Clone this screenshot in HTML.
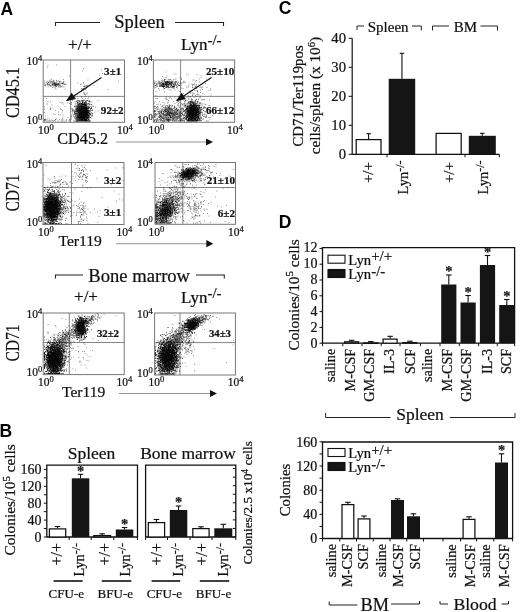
<!DOCTYPE html>
<html><head><meta charset="utf-8"><title>Figure</title>
<style>
html,body{margin:0;padding:0;background:#fff;}
svg{display:block;will-change:transform;opacity:0.999;}
text.s{font-family:"Liberation Serif", serif;stroke:#111;stroke-width:0.22px;}
text.a{font-family:"Liberation Sans", sans-serif;}
</style></head><body>
<svg width="520" height="612" viewBox="0 0 520 612">
<rect width="520" height="612" fill="#fff"/>
<text class="a" x="0.6" y="14.6" font-size="17.5" text-anchor="start" font-weight="bold" fill="#000">A</text>
<polyline points="55.5,26 55.5,22.5 100,22.5" fill="none" stroke="#222" stroke-width="1.1"/>
<text class="s" x="139.5" y="27.7" font-size="18.5" text-anchor="middle" fill="#111">Spleen</text>
<polyline points="175,22.5 223.5,22.5 223.5,26" fill="none" stroke="#222" stroke-width="1.1"/>
<text class="s" x="80" y="49.5" font-size="17" text-anchor="middle" fill="#111">+/+</text>
<text class="s" x="181" y="50" font-size="17" text-anchor="start" fill="#111">Lyn<tspan font-size="15" dy="-5">-/-</tspan></text>
<rect x="43.2" y="60" width="81.3" height="62.3" fill="#fff" stroke="#777" stroke-width="1"/>
<line x1="70.6" y1="60" x2="70.6" y2="122.3" stroke="#666" stroke-width="0.8"/>
<line x1="43.2" y1="96.4" x2="124.5" y2="96.4" stroke="#666" stroke-width="0.8"/>
<path transform="scale(.5)" d="M95 130h2M112 130h2M94 134h2M166 137h2M202 140h2M164 142h2M204 147h2M198 150h2M138 152h2M102 158h2M126 159h2M99 160h2M103 160h2M175 160h2M106 161h2M112 161h2M88 162h2M95 162h2M99 162h3M107 162h3M113 162h2M116 162h2M236 162h2M93 163h2M101 163h2M103 163h2M106 163h2M120 163h2M126 163h3M97 164h3M104 164h3M112 164h3M93 165h2M101 165h2M105 165h2M108 165h3M119 165h2M125 165h3M166 165h2M88 166h2M91 166h2M97 166h2M108 166h2M112 166h2M117 166h2M122 166h2M125 166h2M155 166h2M166 166h2M94 167h2M101 167h2M106 167h2M109 167h5M114 167h2M116 167h3M122 167h3M125 167h2M127 167h2M97 168h2M105 168h3M109 168h2M112 168h3M115 168h2M117 168h5M129 168h2M162 168h2M90 169h2M93 169h2M96 169h2M98 169h2M105 169h3M108 169h2M110 169h3M117 169h2M125 169h2M131 169h2M160 169h2M88 170h2M94 170h2M101 170h2M114 170h2M118 170h2M169 170h2M89 171h2M97 171h2M100 171h2M105 171h2M107 171h3M110 171h2M114 171h3M118 171h2M120 171h2M174 171h2M187 171h2M90 172h2M98 172h2M103 172h2M109 172h2M112 172h2M116 172h2M123 172h3M168 172h2M171 172h2M100 173h2M110 173h2M112 173h2M119 173h2M121 173h2M166 173h2M168 173h3M95 174h2M106 174h2M109 174h2M116 174h2M123 174h2M127 174h2M168 174h2M104 175h2M119 175h2M172 175h2M110 176h2M163 177h2M166 177h2M172 177h2M111 178h2M129 178h2M162 178h3M166 178h3M164 179h2M169 179h3M215 179h2M166 181h2M162 183h2M167 185h2M167 186h2M174 186h2M167 187h2M168 188h2M172 188h2M153 189h2M169 189h2M170 190h2M169 193h2M149 194h2M176 194h2M92 197h2M155 197h2M164 197h2M170 197h2M175 197h2M138 198h2M137 199h2M167 199h2M153 200h2M144 201h2M154 201h2M156 201h2M162 201h2M195 201h2M152 202h2M157 202h2M159 202h2M161 202h2M95 203h2M149 203h2M165 203h2M100 204h2M154 204h2M158 204h2M161 204h2M169 204h2M177 204h2M182 204h2M119 205h2M124 205h2M142 205h2M170 205h2M122 206h2M134 206h2M142 206h2M150 206h2M154 206h3M159 206h2M169 206h4M138 207h2M164 207h2M93 208h3M126 208h2M151 208h2M154 208h2M163 208h2M166 208h2M173 208h2M179 208h2M142 209h2M157 209h2M177 209h2M179 209h2M103 210h2M149 210h2M163 210h2M168 210h2M171 210h2M173 210h2M165 211h2M151 212h2M156 212h2M183 212h2M186 212h2M129 213h2M148 213h2M156 213h2M160 213h2M167 213h2M175 213h4M181 213h2M185 213h2M88 214h2M100 214h2M149 214h2M159 214h2M165 214h2M176 214h2M190 214h2M157 215h3M177 215h2M105 216h2M141 216h2M160 216h2M175 216h2M182 216h2M100 217h2M155 217h2M180 217h2M182 217h2M101 218h2M120 218h2M144 218h2M150 218h2M152 218h2M155 218h2M180 218h2M88 219h2M100 219h2M122 219h2M147 219h2M173 219h2M152 220h2M183 220h2M110 221h2M124 221h2M144 221h2M146 221h2M169 221h2M177 221h2M179 221h2M182 221h4M143 222h2M195 222h2M145 223h2M148 223h2M158 223h2M116 224h2M124 224h2M147 224h2M149 224h2M178 224h2M189 224h2M88 225h2M182 225h2M144 226h2M151 227h2M163 227h2M184 227h2M106 228h2M149 228h2M177 228h2M179 228h2M109 229h2M116 229h2M147 229h2M154 229h2M178 229h2M119 230h2M125 230h2M143 230h2M146 230h2M156 230h2M159 230h2M183 230h2M154 231h2M90 232h2M142 232h2M178 232h2M182 232h2M150 233h2M125 234h2M142 234h2M135 235h2M172 235h2M176 235h2M95 236h2M176 236h2M124 237h2M167 237h2M169 237h2M90 238h2M112 238h2M139 238h2M142 238h2M151 238h2M90 239h2M93 239h2M118 239h2M123 239h2M132 239h2M138 239h2M166 239h3M89 240h2M98 240h2M102 240h2M125 240h2M88 241h2M90 241h2M104 241h2M108 241h2M137 241h2M153 241h2M88 242h2M92 242h3M95 242h2M97 242h2M99 242h3M105 242h3M110 242h2M115 242h3M121 242h3M124 242h2M127 242h2M130 242h2M132 242h2M138 242h2M146 242h3M155 242h2M177 242h2" stroke="#000" stroke-opacity="0.4" stroke-width="2" fill="none"/>
<path transform="scale(.5)" d="M118 163h2M101 164h2M96 165h2M105 166h2M109 166h2M108 167h2M124 167h2M94 168h2M104 168h2M108 168h2M110 168h2M116 168h2M104 169h2M109 169h2M112 169h3M115 169h2M129 169h2M103 170h2M111 170h2M109 171h2M111 171h2M172 172h2M162 194h2M164 201h2M166 201h3M172 201h4M163 202h2M169 202h2M175 202h3M178 202h2M153 203h2M170 203h2M178 203h3M156 204h2M165 204h2M172 204h2M154 205h2M164 205h2M168 205h2M171 205h2M153 206h2M160 206h2M165 206h4M157 207h3M168 207h3M172 207h3M176 207h2M155 208h2M158 208h3M161 208h2M165 208h2M167 208h3M178 208h2M156 209h2M158 209h2M166 209h2M169 209h2M172 209h3M182 209h2M154 210h2M156 210h2M160 210h4M164 210h2M166 210h2M177 210h2M161 211h3M164 211h2M168 211h2M172 211h2M152 212h2M155 212h2M158 212h2M161 212h2M164 212h2M166 212h2M169 212h2M171 212h2M173 212h2M149 213h2M154 213h2M157 213h3M161 213h2M166 213h2M169 213h5M153 214h3M157 214h3M160 214h3M163 214h2M172 214h4M177 214h2M155 215h3M159 215h2M161 215h2M163 215h3M166 215h2M169 215h2M171 215h2M173 215h2M175 215h3M178 215h2M182 215h2M154 216h2M156 216h3M161 216h3M166 216h2M171 216h2M153 217h2M159 217h2M161 217h2M164 217h3M167 217h2M170 217h2M176 217h3M181 217h2M143 218h2M151 218h2M156 218h2M163 218h2M172 218h2M151 219h2M153 219h3M156 219h3M144 220h2M153 220h2M156 220h4M160 220h2M166 220h2M179 220h3M184 220h2M151 221h2M153 221h2M156 221h2M158 221h3M170 221h2M172 221h2M174 221h2M176 221h2M148 222h3M151 222h2M155 222h2M173 222h2M175 222h2M178 222h2M150 223h4M161 223h3M175 223h2M179 223h2M152 224h4M156 224h3M171 224h2M173 224h2M175 224h2M177 224h2M148 225h2M155 225h2M167 225h2M176 225h2M149 226h2M151 226h4M174 226h2M176 226h2M179 226h2M149 227h3M153 227h3M157 227h3M160 227h2M183 227h2M148 228h2M152 228h2M154 228h3M172 228h2M150 229h2M167 229h2M173 229h2M175 229h2M177 229h2M180 229h2M164 230h2M170 230h3M173 230h3M184 230h2M151 231h2M153 231h2M156 231h2M159 231h2M171 231h4M175 231h2M179 231h2M150 232h2M154 232h2M170 232h2M173 232h3M176 232h3M183 232h2M147 233h2M156 233h4M155 234h3M159 234h2M162 234h3M166 234h2M169 234h2M171 234h2M174 234h2M149 235h2M152 235h3M155 235h2M161 235h2M169 235h2M173 235h3M177 235h2M180 235h2M149 236h2M155 236h3M158 236h2M160 236h3M168 236h2M173 236h2M175 236h2M178 236h2M181 236h2M153 237h4M157 237h2M159 237h2M161 237h2M164 237h2M173 237h3M150 238h2M152 238h2M155 238h2M169 238h2M172 238h4M88 239h2M110 239h2M154 239h3M158 239h4M163 239h2M165 239h2M168 239h2M170 239h2M175 239h3M158 240h5M163 240h3M167 240h2M169 240h2M171 240h3M176 240h2M178 240h2M155 241h2M157 241h4M161 241h3M166 241h3M171 241h5M149 242h2M151 242h2M153 242h2M170 242h2M172 242h2M174 242h2M180 242h2" stroke="#000" stroke-opacity="0.62" stroke-width="2" fill="none"/>
<path transform="scale(.5)" d="M158 202h2M164 204h2M159 207h2M162 207h3M162 208h2M169 208h3M161 209h2M164 209h3M168 209h2M170 209h2M169 210h3M155 211h2M159 211h2M170 211h3M159 212h2M167 212h3M170 212h2M159 213h2M162 213h3M165 213h2M151 214h2M156 214h2M162 214h2M164 214h2M166 214h2M168 214h2M167 215h3M170 215h2M172 215h2M153 216h2M158 216h3M163 216h4M167 216h5M172 216h2M154 217h2M157 217h3M162 217h3M166 217h2M168 217h3M171 217h3M174 217h2M153 218h2M160 218h4M164 218h6M170 218h3M174 218h2M176 218h2M158 219h16M155 220h2M159 220h2M161 220h6M167 220h9M154 221h3M157 221h2M160 221h5M165 221h5M171 221h2M173 221h2M175 221h2M158 222h14M172 222h2M174 222h2M154 223h3M157 223h2M159 223h3M163 223h12M159 224h13M172 224h2M174 224h2M176 224h2M156 225h12M168 225h4M172 225h3M175 225h2M156 226h19M175 226h2M159 227h2M161 227h3M164 227h12M177 227h3M156 228h17M173 228h2M180 228h2M153 229h2M157 229h4M161 229h7M168 229h6M174 229h2M158 230h2M161 230h4M165 230h6M172 230h2M175 230h2M157 231h3M160 231h12M174 231h2M176 231h2M155 232h16M171 232h2M175 232h2M153 233h2M159 233h16M176 233h3M153 234h3M160 234h3M164 234h3M167 234h3M172 234h2M156 235h2M158 235h4M162 235h8M170 235h2M175 235h2M153 236h2M157 236h2M159 236h2M163 236h6M170 236h2M172 236h2M174 236h2M162 237h2M166 237h2M168 237h2M158 238h3M161 238h3M164 238h6M170 238h3M176 238h2M153 239h2M157 239h2M161 239h2M164 239h2M169 239h2M172 239h2M162 240h2M168 240h2M170 240h2M164 241h2M168 241h2M170 241h2M152 242h2M154 242h2M156 242h15M171 242h2M173 242h2M176 242h2M178 242h2" stroke="#000" stroke-opacity="0.88" stroke-width="2" fill="none"/>
<text class="s" x="26.4" y="65.0" font-size="11.5" text-anchor="start" fill="#111">10<tspan font-size="8.5" dy="-4">4</tspan></text>
<text class="s" x="26.4" y="123.8" font-size="11.5" text-anchor="start" fill="#111">10<tspan font-size="8.5" dy="-4">0</tspan></text>
<text class="s" x="38.0" y="133.5" font-size="11.5" text-anchor="start" fill="#111">10<tspan font-size="8.5" dy="-4">0</tspan></text>
<text class="s" x="116.9" y="133.7" font-size="11.5" text-anchor="start" fill="#111">10<tspan font-size="8.5" dy="-4">4</tspan></text>
<rect x="153.4" y="60" width="81.19999999999999" height="62.3" fill="#fff" stroke="#777" stroke-width="1"/>
<line x1="180.6" y1="60" x2="180.6" y2="122.3" stroke="#666" stroke-width="0.8"/>
<line x1="153.4" y1="96.4" x2="234.6" y2="96.4" stroke="#666" stroke-width="0.8"/>
<path transform="scale(.5)" d="M331 144h2M347 148h2M351 148h2M375 148h2M393 149h2M372 150h2M401 151h2M333 152h2M324 153h2M331 155h2M401 155h2M327 156h2M359 156h2M362 156h2M333 158h2M350 158h3M398 158h2M412 158h2M328 159h2M336 159h2M338 159h2M340 159h2M347 159h2M362 159h2M324 160h2M328 160h2M341 160h2M345 160h2M385 160h2M387 160h2M323 161h2M327 161h2M392 161h2M308 162h2M316 162h2M321 162h2M327 162h3M333 162h2M336 162h4M343 162h2M367 162h2M311 163h2M318 163h2M325 163h2M328 163h5M333 163h2M335 163h2M339 163h2M342 163h4M352 163h2M390 163h2M316 164h3M323 164h2M328 164h3M332 164h5M338 164h2M344 164h2M346 164h2M348 164h2M351 164h2M353 164h2M356 164h2M360 164h2M366 164h2M368 164h2M398 164h2M309 165h2M319 165h2M326 165h2M331 165h3M334 165h2M336 165h2M339 165h2M343 165h2M349 165h4M355 165h2M370 165h2M308 166h2M314 166h3M317 166h5M328 166h4M333 166h2M340 166h3M345 166h2M349 166h2M351 166h2M361 166h2M363 166h2M365 166h2M308 167h2M311 167h2M313 167h2M317 167h4M325 167h2M328 167h3M333 167h2M338 167h2M350 167h2M354 167h2M359 167h2M388 167h2M410 167h2M308 168h2M318 168h2M324 168h2M326 168h3M330 168h3M333 168h2M335 168h2M338 168h2M340 168h2M342 168h2M377 168h2M312 169h2M315 169h2M325 169h2M332 169h2M334 169h3M337 169h3M340 169h4M346 169h3M349 169h4M354 169h3M383 169h2M385 169h2M387 169h2M392 169h2M312 170h3M318 170h2M328 170h2M334 170h3M349 170h2M351 170h2M356 170h3M362 170h2M389 170h2M309 171h2M319 171h3M323 171h3M335 171h2M337 171h2M339 171h2M342 171h2M349 171h2M352 171h2M356 171h2M359 171h2M384 171h2M308 172h2M317 172h5M322 172h2M327 172h2M332 172h2M334 172h2M336 172h2M340 172h2M344 172h3M347 172h2M354 172h2M376 172h2M392 172h2M313 173h2M318 173h2M320 173h3M323 173h2M326 173h3M330 173h2M332 173h3M336 173h3M340 173h2M345 173h2M348 173h2M353 173h2M390 173h2M309 174h2M325 174h2M334 174h2M343 174h2M345 174h3M348 174h2M353 174h2M372 174h2M375 174h2M384 174h2M387 174h2M391 174h2M401 174h2M404 174h2M311 175h2M326 175h2M332 175h2M335 175h2M337 175h3M340 175h3M343 175h3M347 175h2M352 175h2M384 175h2M399 175h2M413 175h2M308 176h2M329 176h2M343 176h2M346 176h2M353 176h2M362 176h2M389 176h2M391 176h2M402 176h2M316 177h2M347 177h2M365 177h2M392 177h2M326 178h2M335 178h2M420 178h2M339 179h2M404 179h2M318 180h2M349 180h2M400 180h2M421 180h2M341 181h2M382 181h3M389 181h2M393 181h2M417 181h2M357 182h2M377 182h2M379 182h2M394 182h2M311 183h2M359 183h2M394 183h2M328 184h2M400 185h2M380 186h2M383 186h2M385 186h2M394 186h2M366 187h2M387 187h2M405 187h2M387 188h2M393 189h2M395 189h2M384 190h2M397 190h2M421 190h2M311 191h2M384 191h2M390 191h2M375 192h2M401 192h2M356 193h2M359 193h2M379 193h2M392 193h2M331 194h2M340 194h2M348 194h2M365 194h2M379 194h2M399 194h2M373 195h2M387 195h2M332 196h2M338 196h2M376 196h2M399 196h2M311 197h2M314 197h2M382 197h2M330 198h2M332 198h2M342 198h2M351 198h2M367 198h2M396 198h2M333 199h2M371 199h2M396 199h2M403 199h2M406 199h2M408 199h2M365 200h2M381 200h2M383 200h2M390 200h2M403 200h2M418 200h2M336 201h2M355 201h2M373 201h2M390 201h2M355 202h2M357 202h2M369 202h2M384 202h3M389 202h2M318 203h2M346 203h2M355 203h2M369 203h2M385 203h2M395 203h2M309 204h2M335 204h3M368 204h2M376 204h2M394 204h2M325 205h2M353 205h2M359 205h2M382 205h3M385 205h2M394 205h2M308 206h2M328 206h2M334 206h2M374 206h3M383 206h2M386 206h2M391 206h2M394 206h2M399 206h2M349 207h2M356 207h2M362 207h2M367 207h2M369 207h2M373 207h3M378 207h3M390 207h2M392 207h2M395 207h2M403 207h2M316 208h2M365 208h2M368 208h2M380 208h2M383 208h2M399 208h2M407 208h2M313 209h2M320 209h2M338 209h2M355 209h2M365 209h2M369 209h2M373 209h2M390 209h2M410 209h3M328 210h2M361 210h2M364 210h2M371 210h2M375 210h2M377 210h2M385 210h2M391 210h2M398 210h2M401 210h3M404 210h2M325 211h2M332 211h2M334 211h2M337 211h2M339 211h2M344 211h2M355 211h2M367 211h2M371 211h2M374 211h2M396 211h2M398 211h2M417 211h2M419 211h2M308 212h2M323 212h3M330 212h2M338 212h2M340 212h3M348 212h2M356 212h2M359 212h2M368 212h2M379 212h2M395 212h2M308 213h2M310 213h2M314 213h2M323 213h2M334 213h2M338 213h2M348 213h2M371 213h2M383 213h2M407 213h2M314 214h2M316 214h2M325 214h2M336 214h2M338 214h2M348 214h2M365 214h2M371 214h2M394 214h2M399 214h2M402 214h2M312 215h2M326 215h3M337 215h2M339 215h2M348 215h3M358 215h2M398 215h2M401 215h3M408 215h2M410 215h2M308 216h2M313 216h2M320 216h2M328 216h3M331 216h2M336 216h2M339 216h2M342 216h3M351 216h3M355 216h2M379 216h2M390 216h2M397 216h2M410 216h3M309 217h2M324 217h2M333 217h2M340 217h2M342 217h2M346 217h3M352 217h2M361 217h2M363 217h2M365 217h3M385 217h2M399 217h2M407 217h2M430 217h2M310 218h2M313 218h2M315 218h2M317 218h2M327 218h4M332 218h2M334 218h2M336 218h2M338 218h2M340 218h2M352 218h3M363 218h2M365 218h2M371 218h2M375 218h2M401 218h2M313 219h2M322 219h3M325 219h2M333 219h2M338 219h3M343 219h2M349 219h3M352 219h2M355 219h2M357 219h2M361 219h2M363 219h2M366 219h2M372 219h2M380 219h2M394 219h2M315 220h2M319 220h2M322 220h2M328 220h2M331 220h3M334 220h7M349 220h3M354 220h2M366 220h3M391 220h2M400 220h2M402 220h2M417 220h2M308 221h3M319 221h2M324 221h2M330 221h3M333 221h3M340 221h2M342 221h2M346 221h5M352 221h3M357 221h3M365 221h2M371 221h2M309 222h2M311 222h2M322 222h2M331 222h3M337 222h2M341 222h3M346 222h4M352 222h2M354 222h2M362 222h2M392 222h2M397 222h2M417 222h2M310 223h2M314 223h3M319 223h2M321 223h3M325 223h2M327 223h4M333 223h2M339 223h2M341 223h2M344 223h2M356 223h6M367 223h2M369 223h2M371 223h3M395 223h2M398 223h3M321 224h2M323 224h2M327 224h2M330 224h2M333 224h2M340 224h2M345 224h2M349 224h2M352 224h2M360 224h2M362 224h2M364 224h3M373 224h3M403 224h2M409 224h2M308 225h2M317 225h2M320 225h2M322 225h2M327 225h3M331 225h2M334 225h2M337 225h2M340 225h7M348 225h2M352 225h2M357 225h2M359 225h2M375 225h2M403 225h2M318 226h2M325 226h2M327 226h2M336 226h2M340 226h2M343 226h5M348 226h2M354 226h2M356 226h3M359 226h2M361 226h2M396 226h2M400 226h2M404 226h2M308 227h4M315 227h2M318 227h2M321 227h4M325 227h3M330 227h2M334 227h2M336 227h2M340 227h2M346 227h2M351 227h2M353 227h2M363 227h2M415 227h2M309 228h3M314 228h3M317 228h4M325 228h2M327 228h3M333 228h2M336 228h4M341 228h2M350 228h2M355 228h4M360 228h3M373 228h2M376 228h2M379 228h2M394 228h2M397 228h2M401 228h2M408 228h3M308 229h2M312 229h2M319 229h2M323 229h2M325 229h6M331 229h2M336 229h2M347 229h2M351 229h2M353 229h2M358 229h2M374 229h2M379 229h2M404 229h2M407 229h2M308 230h2M323 230h2M331 230h3M335 230h3M339 230h2M341 230h2M344 230h2M346 230h4M356 230h2M358 230h2M360 230h2M363 230h2M375 230h2M381 230h2M399 230h2M404 230h2M412 230h2M308 231h2M318 231h2M320 231h2M322 231h2M326 231h2M328 231h5M333 231h4M338 231h2M340 231h2M342 231h3M345 231h2M347 231h5M355 231h2M358 231h2M361 231h2M363 231h2M367 231h4M379 231h2M404 231h2M412 231h2M424 231h2M310 232h2M313 232h2M318 232h4M324 232h2M326 232h2M328 232h3M331 232h2M334 232h2M337 232h2M339 232h2M345 232h2M347 232h2M349 232h2M352 232h3M360 232h2M366 232h2M384 232h2M394 232h2M408 232h2M316 233h2M319 233h2M325 233h2M330 233h2M332 233h2M334 233h2M347 233h2M353 233h2M355 233h6M374 233h2M386 233h2M394 233h2M397 233h2M406 233h2M409 233h2M412 233h2M308 234h2M310 234h2M322 234h2M327 234h2M338 234h3M348 234h6M356 234h3M401 234h2M411 234h2M308 235h2M318 235h4M322 235h5M327 235h3M330 235h2M332 235h3M335 235h3M343 235h2M345 235h2M347 235h2M349 235h2M352 235h2M355 235h2M375 235h3M381 235h2M402 235h2M410 235h2M412 235h2M420 235h2M313 236h2M322 236h2M325 236h4M330 236h5M336 236h2M340 236h2M342 236h2M344 236h2M347 236h3M350 236h2M352 236h4M357 236h2M365 236h2M369 236h2M385 236h2M401 236h2M314 237h2M320 237h2M323 237h2M325 237h2M328 237h3M332 237h4M339 237h2M345 237h2M347 237h2M353 237h2M355 237h5M361 237h2M391 237h2M312 238h2M315 238h2M319 238h2M321 238h2M325 238h2M328 238h2M331 238h3M334 238h3M344 238h2M353 238h3M359 238h4M363 238h2M366 238h2M404 238h2M310 239h2M313 239h4M318 239h2M326 239h2M330 239h2M332 239h2M339 239h2M341 239h2M346 239h3M350 239h2M352 239h3M361 239h3M375 239h2M389 239h2M419 239h2M309 240h2M326 240h2M329 240h2M334 240h4M339 240h2M346 240h2M349 240h2M352 240h2M358 240h2M360 240h2M362 240h2M364 240h2M391 240h2M315 241h2M320 241h3M323 241h2M329 241h2M334 241h2M338 241h2M340 241h3M344 241h2M349 241h2M351 241h2M356 241h2M359 241h2M361 241h2M363 241h2M365 241h2M367 241h2M385 241h2M397 241h2M399 241h3M402 241h2M311 242h2M316 242h2M319 242h2M321 242h4M325 242h3M331 242h4M338 242h2M343 242h3M349 242h2M352 242h3M355 242h3M358 242h2M360 242h2M363 242h2M365 242h2M367 242h2M412 242h2" stroke="#000" stroke-opacity="0.4" stroke-width="2" fill="none"/>
<path transform="scale(.5)" d="M329 159h2M350 163h2M322 165h2M330 165h2M337 165h2M323 166h4M331 166h2M334 166h2M343 166h3M323 167h2M326 167h2M330 167h2M332 167h2M337 167h2M340 167h4M349 167h2M320 168h2M325 168h2M334 168h2M337 168h2M339 168h2M347 168h2M322 169h2M324 169h2M326 169h2M331 169h2M333 169h2M321 170h2M326 170h2M329 170h2M342 170h2M345 170h2M310 171h2M322 171h2M325 171h2M327 171h2M331 171h3M358 171h2M313 172h2M323 172h2M333 172h2M342 172h2M346 172h2M348 172h2M335 173h2M344 173h2M326 174h2M333 174h2M331 175h2M336 175h2M328 177h2M377 198h2M383 199h2M392 199h2M370 201h2M382 202h2M391 202h2M379 203h3M383 203h2M394 203h2M377 204h2M380 204h2M383 204h2M387 204h3M390 204h2M377 205h2M384 205h2M387 205h2M376 206h2M379 206h2M387 206h2M398 206h2M400 206h2M380 207h3M384 207h5M389 207h2M379 208h2M391 208h3M380 209h4M388 209h3M378 210h5M386 210h2M389 210h3M393 210h2M395 210h3M370 211h2M377 211h2M380 211h2M387 211h3M390 211h2M394 211h2M397 211h2M343 212h2M369 212h2M377 212h3M382 212h2M385 212h4M393 212h2M397 212h3M374 213h4M378 213h2M381 213h2M386 213h2M388 213h3M391 213h2M396 213h2M337 214h2M369 214h2M374 214h2M377 214h2M381 214h2M391 214h4M398 214h2M407 214h2M333 215h2M336 215h2M374 215h2M376 215h3M386 215h3M390 215h3M393 215h2M395 215h4M399 215h2M333 216h2M348 216h2M363 216h2M371 216h2M375 216h2M384 216h3M387 216h2M389 216h2M393 216h2M398 216h3M401 216h2M406 216h2M337 217h3M380 217h2M383 217h2M389 217h3M393 217h2M395 217h2M397 217h2M405 217h2M330 218h2M335 218h2M339 218h2M343 218h2M351 218h2M372 218h2M374 218h2M378 218h2M380 218h2M382 218h2M384 218h2M393 218h3M396 218h4M335 219h2M341 219h3M371 219h2M373 219h4M378 219h3M383 219h2M392 219h2M395 219h2M401 219h2M403 219h2M327 220h2M356 220h2M370 220h2M376 220h5M385 220h2M389 220h2M394 220h2M397 220h4M328 221h2M337 221h2M369 221h2M376 221h3M390 221h2M394 221h2M396 221h2M399 221h2M406 221h2M330 222h2M343 222h2M368 222h2M377 222h3M390 222h2M393 222h3M396 222h2M400 222h3M308 223h2M326 223h2M330 223h2M332 223h2M353 223h2M366 223h2M373 223h2M375 223h2M385 223h3M390 223h2M392 223h3M396 223h3M409 223h2M334 224h3M337 224h2M339 224h2M369 224h2M375 224h3M378 224h2M384 224h3M395 224h4M335 225h2M370 225h2M373 225h3M380 225h2M382 225h2M385 225h2M390 225h2M393 225h2M396 225h2M399 225h4M317 226h2M322 226h2M333 226h2M341 226h3M350 226h2M352 226h3M358 226h2M364 226h2M371 226h3M377 226h2M394 226h2M398 226h2M333 227h2M338 227h2M342 227h2M347 227h2M362 227h2M369 227h2M373 227h3M376 227h3M390 227h2M396 227h5M311 228h2M326 228h2M332 228h2M335 228h2M343 228h2M347 228h2M349 228h2M369 228h2M374 228h3M377 228h2M383 228h2M386 228h2M388 228h2M391 228h2M399 228h3M333 229h4M337 229h3M343 229h2M346 229h2M352 229h2M355 229h2M364 229h2M373 229h2M378 229h2M387 229h2M390 229h2M393 229h3M396 229h3M319 230h3M327 230h2M330 230h2M337 230h2M345 230h2M350 230h2M366 230h2M368 230h3M376 230h3M380 230h2M382 230h2M390 230h3M393 230h2M396 230h2M332 231h2M372 231h3M375 231h3M378 231h2M393 231h2M397 231h2M341 232h2M358 232h2M371 232h2M373 232h2M375 232h2M377 232h2M388 232h2M390 232h2M392 232h2M396 232h2M398 232h2M400 232h2M308 233h2M320 233h2M322 233h2M340 233h2M344 233h2M351 233h2M361 233h2M371 233h2M373 233h2M376 233h2M378 233h3M388 233h2M390 233h2M393 233h2M396 233h2M318 234h2M336 234h2M340 234h4M347 234h2M354 234h3M371 234h2M374 234h3M377 234h3M384 234h2M387 234h2M394 234h2M317 235h2M341 235h2M358 235h2M367 235h3M371 235h3M380 235h2M383 235h2M385 235h2M387 235h6M395 235h2M399 235h2M417 235h2M324 236h2M337 236h2M345 236h2M349 236h2M372 236h2M376 236h3M380 236h3M384 236h2M396 236h2M399 236h2M326 237h2M365 237h3M372 237h2M376 237h2M383 237h3M387 237h2M389 237h3M393 237h7M401 237h2M337 238h2M341 238h2M345 238h3M368 238h2M375 238h2M377 238h2M384 238h2M388 238h2M391 238h2M393 238h2M406 238h2M333 239h2M336 239h2M338 239h2M371 239h3M378 239h4M383 239h3M386 239h3M390 239h3M394 239h2M397 239h2M399 239h2M308 240h2M332 240h2M345 240h2M372 240h2M374 240h2M376 240h2M380 240h2M382 240h2M384 240h3M388 240h2M393 240h2M395 240h2M398 240h2M401 240h2M335 241h2M375 241h2M377 241h2M379 241h2M384 241h2M391 241h2M395 241h2M313 242h2M324 242h2M335 242h2M337 242h2M347 242h3M368 242h2M373 242h2M381 242h2M393 242h2M395 242h2M399 242h2M415 242h2" stroke="#000" stroke-opacity="0.62" stroke-width="2" fill="none"/>
<path transform="scale(.5)" d="M334 163h2M331 164h2M336 164h2M339 164h2M341 164h2M335 165h2M342 165h2M332 166h2M342 166h2M339 167h2M345 168h2M327 169h2M330 169h2M336 169h2M332 170h2M325 172h2M324 173h3M328 173h2M346 173h2M381 203h2M381 205h2M387 208h2M386 209h2M382 210h3M388 210h2M381 211h5M386 211h2M389 211h2M392 211h3M384 212h2M388 212h2M392 212h2M382 213h2M384 213h3M392 213h2M330 214h2M373 214h2M379 214h3M382 214h2M384 214h2M386 214h4M390 214h2M378 215h3M381 215h4M385 215h2M388 215h3M378 216h2M380 216h5M386 216h2M391 216h3M394 216h3M372 217h2M374 217h3M379 217h2M381 217h3M386 217h2M388 217h2M391 217h2M394 217h2M376 218h2M379 218h2M381 218h2M383 218h2M385 218h6M395 218h2M331 219h2M381 219h3M384 219h6M390 219h3M396 219h2M344 220h2M371 220h2M375 220h2M381 220h5M386 220h4M390 220h2M392 220h3M395 220h2M354 221h2M373 221h4M378 221h13M391 221h3M308 222h2M335 222h2M376 222h2M380 222h11M391 222h2M395 222h2M317 223h2M336 223h2M374 223h2M376 223h10M387 223h2M389 223h2M391 223h2M394 223h2M322 224h2M348 224h2M350 224h2M379 224h6M386 224h7M399 224h2M339 225h2M376 225h5M381 225h2M384 225h2M387 225h4M391 225h3M394 225h3M334 226h2M338 226h2M374 226h3M378 226h5M383 226h12M397 226h2M341 227h2M343 227h2M345 227h2M378 227h13M391 227h3M354 228h2M378 228h2M380 228h4M384 228h3M387 228h2M389 228h3M392 228h3M395 228h2M375 229h4M380 229h6M386 229h2M388 229h3M391 229h3M395 229h2M311 230h2M338 230h2M373 230h2M378 230h3M383 230h8M392 230h2M395 230h2M339 231h2M377 231h2M380 231h14M374 232h2M378 232h7M385 232h4M389 232h2M391 232h2M395 232h2M377 233h2M380 233h7M389 233h2M391 233h2M395 233h2M379 234h6M385 234h3M388 234h7M340 235h2M374 235h2M379 235h2M382 235h2M384 235h2M386 235h2M392 235h3M396 235h2M373 236h2M378 236h3M382 236h3M386 236h2M388 236h4M393 236h2M371 237h2M377 237h3M381 237h3M385 237h2M388 237h2M371 238h2M378 238h6M385 238h2M387 238h2M389 238h3M394 238h2M397 238h2M321 239h2M335 239h2M376 239h2M381 239h2M378 240h3M381 240h2M389 240h3M376 241h2M383 241h2M386 241h3M392 241h2M394 241h2M308 242h2M312 242h2M327 242h3M336 242h2M374 242h8M382 242h12" stroke="#000" stroke-opacity="0.88" stroke-width="2" fill="none"/>
<text class="s" x="137.0" y="65.0" font-size="11.5" text-anchor="start" fill="#111">10<tspan font-size="8.5" dy="-4">4</tspan></text>
<text class="s" x="137.0" y="123.8" font-size="11.5" text-anchor="start" fill="#111">10<tspan font-size="8.5" dy="-4">0</tspan></text>
<text class="s" x="148.5" y="133.5" font-size="11.5" text-anchor="start" fill="#111">10<tspan font-size="8.5" dy="-4">0</tspan></text>
<text class="s" x="227.0" y="133.7" font-size="11.5" text-anchor="start" fill="#111">10<tspan font-size="8.5" dy="-4">4</tspan></text>
<text class="s" x="0" y="0" font-size="18.6" text-anchor="start" transform="translate(19.4 117.9) rotate(-90) scale(0.87 1)" fill="#111">CD45.1</text>
<text class="s" x="57.3" y="144.3" font-size="16.2" text-anchor="start" fill="#111">CD45.2</text>
<line x1="116" y1="142" x2="209" y2="142" stroke="#888" stroke-width="0.9"/>
<polygon points="206,138.4 213,142 206,145.6" fill="#111"/>
<line x1="101.5" y1="77.5" x2="67" y2="100.5" stroke="#111" stroke-width="1.2"/>
<polygon points="65.8,101.3 71.7,92.8 75.9,99.1" fill="#111"/>
<line x1="211.5" y1="77.5" x2="177" y2="100.5" stroke="#111" stroke-width="1.2"/>
<polygon points="175.8,101.3 181.7,92.8 185.9,99.1" fill="#111"/>
<text class="s" x="121.3" y="75.1" font-size="11.1" text-anchor="end" font-weight="bold" fill="#111">3±1</text>
<text class="s" x="123.6" y="114" font-size="11.1" text-anchor="end" font-weight="bold" fill="#111">92±2</text>
<text class="s" x="234.3" y="75.0" font-size="11.1" text-anchor="end" font-weight="bold" fill="#111">25±10</text>
<text class="s" x="234.2" y="114" font-size="11.1" text-anchor="end" font-weight="bold" fill="#111">66±12</text>
<rect x="43" y="162.5" width="81" height="62.0" fill="#fff" stroke="#777" stroke-width="1"/>
<line x1="71.5" y1="162.5" x2="71.5" y2="224.5" stroke="#666" stroke-width="0.8"/>
<line x1="43" y1="187.5" x2="124" y2="187.5" stroke="#666" stroke-width="0.8"/>
<path transform="scale(.5)" d="M150 328h2M149 330h2M169 330h2M91 331h2M154 331h2M163 331h2M165 334h2M245 334h2M168 335h2M155 336h2M230 336h2M245 336h2M151 337h2M158 337h2M158 338h2M170 338h2M164 339h3M155 340h2M163 340h2M172 340h2M213 340h2M158 341h2M180 341h2M143 343h2M166 343h2M151 345h2M161 345h2M148 346h2M162 346h2M159 347h3M152 348h2M166 348h2M173 348h3M158 349h2M166 349h2M168 349h2M87 350h2M165 350h2M168 350h2M155 351h2M170 351h2M123 352h2M130 352h2M159 352h2M165 352h2M108 353h2M145 353h2M156 353h2M159 353h2M164 353h2M173 353h3M107 354h2M119 354h2M150 354h2M163 354h2M170 354h2M158 355h3M172 355h2M109 357h2M173 357h2M193 357h2M95 358h2M145 358h2M163 358h2M99 359h2M122 359h2M157 359h2M164 359h2M216 359h2M117 360h2M170 360h2M111 361h2M120 361h2M150 361h2M172 361h2M245 361h2M108 362h2M118 362h2M170 362h2M115 363h2M129 363h2M140 363h2M174 363h2M103 364h2M118 364h2M126 364h2M106 365h2M108 365h2M110 365h3M124 365h3M131 365h2M172 365h2M104 366h2M111 366h2M124 366h2M131 366h2M139 366h2M100 367h2M109 367h2M133 367h2M144 367h2M119 368h2M121 368h2M120 369h2M127 369h2M132 369h2M134 369h2M119 370h2M165 370h2M222 370h2M100 371h2M106 372h2M110 372h2M119 372h2M136 372h2M164 372h2M114 373h3M124 373h2M94 374h2M104 374h2M114 374h2M100 375h2M102 375h2M180 375h2M110 376h2M174 376h2M103 378h2M117 378h3M149 378h2M87 379h2M95 379h2M98 379h2M104 379h2M112 379h2M125 379h2M96 380h2M103 380h2M114 380h2M121 380h2M128 380h2M95 381h2M227 382h2M87 383h2M89 383h2M94 383h2M106 383h2M163 383h2M108 385h2M139 385h2M100 386h2M102 386h2M105 386h2M111 386h2M145 386h2M89 387h2M112 387h2M130 387h2M97 388h2M102 388h2M107 388h2M114 388h3M124 388h2M129 388h2M237 388h2M94 389h3M98 389h2M100 389h2M103 389h2M108 389h2M118 389h3M104 390h2M107 390h2M114 390h3M124 390h2M102 391h2M109 391h2M115 391h2M128 391h2M87 392h2M108 392h2M131 392h2M89 393h2M104 393h2M112 393h2M120 393h3M125 393h3M137 393h2M91 394h2M114 394h2M122 394h3M125 394h2M128 394h2M115 395h2M122 395h2M124 395h2M203 395h2M87 396h2M112 396h2M95 397h2M106 397h2M110 397h3M126 397h3M116 398h2M119 398h2M124 398h2M128 398h2M131 398h2M158 398h2M238 398h2M87 399h2M116 399h2M121 399h3M142 399h2M120 400h2M122 400h3M128 400h2M243 400h2M102 401h2M119 401h2M122 401h3M134 401h2M143 401h2M89 402h2M94 402h2M113 402h3M117 402h2M119 402h2M122 402h2M130 402h2M134 402h2M136 402h2M232 402h2M98 403h2M101 403h2M121 403h2M136 403h3M149 403h2M92 404h2M109 404h2M115 404h2M123 404h2M130 404h2M138 404h2M161 404h2M88 405h2M93 405h2M112 405h2M120 405h2M122 405h2M124 405h2M127 405h3M167 405h2M96 406h2M122 406h3M128 406h2M130 406h2M109 407h2M158 407h2M166 407h2M89 408h5M116 408h2M118 408h2M123 408h2M132 408h2M111 409h2M113 409h2M115 409h2M118 409h2M120 409h2M123 409h2M128 409h2M96 410h2M109 410h2M114 410h2M121 410h3M127 410h2M147 410h2M156 410h2M87 411h2M119 411h2M152 411h2M161 411h2M164 411h2M125 412h2M127 412h2M132 412h2M145 412h2M166 412h3M170 412h2M90 413h2M128 413h2M90 414h2M130 414h2M133 414h2M138 414h2M164 414h2M167 414h2M215 414h2M88 415h2M114 415h3M123 415h2M126 415h2M140 415h2M158 415h2M120 416h2M124 416h2M128 416h2M130 416h2M133 416h3M141 416h2M157 416h2M166 416h2M87 417h2M102 417h2M113 417h2M117 417h2M122 417h2M125 417h4M131 417h2M136 417h2M140 417h2M155 417h2M162 417h2M165 417h2M169 417h2M90 418h2M92 418h2M111 418h2M118 418h2M120 418h2M130 418h2M134 418h2M158 418h2M175 418h2M188 418h2M124 419h3M162 419h2M92 420h2M129 420h2M136 420h2M160 420h2M165 420h2M87 421h2M89 421h2M97 421h2M112 421h2M117 421h3M129 421h2M132 421h2M135 421h2M166 421h2M199 421h2M90 422h2M117 422h2M141 422h2M153 422h2M87 423h2M99 423h2M115 423h2M126 423h2M130 423h2M140 423h2M165 423h2M115 424h2M119 424h2M127 424h2M132 424h2M135 424h2M159 424h2M167 424h2M194 424h2M87 425h2M102 425h2M111 425h2M115 425h2M123 425h3M127 425h2M136 425h2M147 425h2M153 425h2M157 425h2M160 425h2M162 425h2M180 425h2M95 426h2M102 426h2M118 426h2M120 426h2M123 426h2M130 426h2M143 426h2M167 426h4M117 428h2M152 428h2M166 428h2M89 429h2M96 429h2M113 429h2M116 429h2M128 429h2M163 429h2M172 429h2M94 430h2M112 430h2M120 430h2M141 430h2M90 431h2M103 431h2M118 431h3M143 431h2M152 431h2M161 431h2M165 431h2M218 431h2M99 432h3M113 432h2M113 433h2M118 433h3M121 433h2M140 433h2M160 433h2M197 433h2M109 434h2M125 434h2M172 434h2M100 435h2M105 435h3M121 435h2M160 435h2M109 436h2M131 436h2M87 437h2M94 437h2M96 437h2M109 437h2M115 437h2M118 437h2M131 437h2M173 437h2M91 438h2M112 438h2M114 438h3M123 438h2M162 438h2M167 438h2M115 439h2M117 439h4M121 439h2M123 439h2M161 439h2M109 440h2M119 440h2M165 440h2M107 441h2M130 441h2M166 441h2M173 441h2M100 442h2M100 443h2M105 443h2M158 443h2M161 443h2M87 444h2M119 444h2M155 444h2M89 445h3M106 445h2M119 445h2M195 445h2M107 446h2M116 446h2M87 447h2M90 447h2M102 447h2M111 447h2M116 447h2M121 447h2M131 447h2M133 447h2M156 447h2M160 447h2M175 447h2" stroke="#000" stroke-opacity="0.4" stroke-width="2" fill="none"/>
<path transform="scale(.5)" d="M162 341h2M166 342h2M171 355h2M115 362h2M115 364h2M103 373h2M88 375h2M90 378h2M98 378h2M93 379h2M99 380h2M88 381h2M96 381h2M108 381h2M105 382h3M103 383h2M107 383h3M114 383h2M119 383h2M94 384h3M108 384h2M94 385h2M96 385h2M99 385h2M116 385h2M93 386h2M99 386h2M101 386h2M108 386h2M113 386h2M100 387h2M103 387h3M107 387h2M96 388h2M98 388h3M101 388h2M103 388h2M106 388h2M110 388h2M117 388h2M130 388h2M92 389h2M99 389h2M107 389h2M112 389h3M117 389h2M93 390h2M98 390h2M103 390h2M108 390h2M110 390h2M113 390h2M117 390h3M120 390h2M89 391h2M94 391h2M99 391h3M103 391h5M108 391h2M113 391h2M116 391h2M91 392h2M95 392h2M97 392h3M101 392h7M109 392h3M112 392h2M117 392h2M93 393h2M95 393h3M98 393h4M105 393h3M109 393h2M113 393h3M135 393h2M93 394h2M97 394h2M102 394h2M104 394h2M107 394h3M113 394h2M116 394h2M120 394h2M87 395h2M94 395h3M97 395h2M101 395h3M113 395h3M117 395h2M95 396h5M104 396h2M107 396h2M109 396h2M114 396h2M121 396h2M87 397h2M89 397h3M93 397h2M96 397h2M99 397h2M101 397h2M103 397h2M105 397h2M108 397h2M112 397h3M115 397h2M87 398h2M90 398h2M94 398h2M97 398h2M106 398h2M108 398h2M111 398h3M114 398h3M120 398h3M88 399h5M94 399h5M102 399h2M110 399h3M114 399h2M90 400h2M92 400h2M98 400h2M100 400h2M104 400h3M108 400h3M112 400h2M114 400h4M131 400h2M87 401h2M92 401h2M95 401h2M98 401h2M104 401h4M111 401h2M113 401h5M90 402h2M92 402h2M95 402h2M98 402h2M101 402h2M107 402h4M111 402h2M115 402h3M118 402h2M95 403h2M99 403h2M106 403h4M110 403h2M113 403h4M117 403h2M124 403h2M87 404h2M90 404h3M93 404h2M96 404h2M101 404h2M112 404h2M117 404h3M140 404h2M87 405h2M89 405h3M101 405h2M103 405h2M108 405h2M110 405h2M115 405h3M119 405h2M126 405h2M87 406h3M91 406h3M95 406h2M108 406h2M111 406h2M113 406h2M118 406h2M120 406h2M89 407h6M97 407h2M113 407h2M116 407h3M120 407h2M100 408h2M111 408h3M115 408h2M117 408h2M119 408h2M87 409h3M90 409h2M97 409h2M103 409h2M112 409h2M122 409h2M124 409h2M87 410h2M91 410h2M93 410h2M107 410h2M112 410h2M115 410h2M118 410h2M94 411h3M116 411h2M118 411h2M120 411h2M123 411h2M90 412h2M92 412h3M114 412h4M126 412h2M89 413h2M104 413h2M111 413h2M116 413h4M155 413h2M88 414h3M91 414h2M108 414h2M111 414h2M113 414h2M115 414h3M134 414h2M91 415h2M95 415h2M103 415h2M112 415h3M117 415h2M119 415h2M121 415h2M127 415h2M87 416h2M89 416h4M97 416h2M106 416h2M113 416h2M119 416h2M91 417h2M109 417h2M116 417h2M118 417h2M120 417h2M130 417h2M89 418h2M112 418h2M114 418h3M119 418h2M125 418h2M88 419h2M93 419h2M95 419h2M108 419h3M113 419h4M118 419h3M121 419h3M164 419h2M89 420h4M94 420h2M112 420h3M116 420h5M123 420h2M125 420h2M88 421h2M93 421h2M95 421h3M109 421h2M115 421h2M89 422h2M92 422h2M100 422h2M111 422h2M114 422h2M116 422h2M118 422h2M121 422h2M89 423h2M96 423h3M116 423h2M121 423h2M169 423h2M87 424h2M92 424h3M111 424h3M116 424h2M118 424h2M92 425h2M94 425h3M105 425h2M109 425h2M113 425h2M120 425h3M87 426h4M92 426h4M96 426h2M111 426h2M114 426h2M117 426h2M91 427h3M96 427h2M98 427h3M108 427h2M116 427h2M118 427h2M123 427h2M89 428h3M92 428h2M94 428h3M97 428h2M103 428h2M107 428h3M113 428h2M90 429h3M93 429h2M95 429h2M110 429h2M114 429h2M118 429h2M162 429h2M87 430h2M89 430h2M91 430h2M93 430h2M98 430h2M103 430h2M106 430h2M109 430h2M114 430h2M116 430h2M123 430h2M87 431h2M92 431h3M99 431h2M102 431h2M104 431h3M108 431h2M114 431h2M87 432h3M90 432h2M92 432h2M94 432h2M96 432h3M110 432h4M115 432h2M120 432h2M87 433h3M93 433h2M95 433h2M97 433h2M100 433h2M102 433h3M105 433h2M107 433h2M109 433h2M111 433h2M114 433h2M120 433h2M87 434h2M91 434h4M99 434h2M101 434h2M106 434h3M110 434h2M114 434h3M124 434h2M92 435h2M94 435h3M101 435h2M109 435h2M112 435h4M89 436h2M95 436h5M100 436h2M102 436h2M104 436h3M110 436h2M114 436h2M121 436h2M99 437h3M103 437h3M112 437h3M93 438h2M102 438h2M91 439h2M93 439h2M98 439h2M103 439h3M106 439h4M110 439h2M112 439h2M88 440h2M95 440h2M101 440h2M103 440h2M105 440h2M107 440h2M110 440h2M121 440h2M90 441h2M93 441h3M96 441h2M100 441h2M102 441h2M104 441h2M106 441h2M110 441h2M97 442h2M102 442h3M108 442h2M113 442h2M94 443h3M103 443h2M106 443h2M111 443h2M93 444h2M103 444h2M156 444h2M97 445h2M100 445h2M89 446h2M95 446h2M98 446h2M101 446h2M108 446h2M89 447h2M91 447h2M93 447h2M98 447h3M103 447h2M107 447h2M110 447h2M115 447h2M122 447h2" stroke="#000" stroke-opacity="0.62" stroke-width="2" fill="none"/>
<path transform="scale(.5)" d="M116 382h2M118 386h2M99 387h2M100 388h2M109 388h2M101 390h2M98 391h2M111 391h2M96 392h2M99 392h3M101 393h3M100 394h2M103 394h2M105 394h3M112 394h2M96 395h2M98 395h2M103 395h4M107 395h3M110 395h3M99 396h2M101 396h2M103 396h2M105 396h3M108 396h2M110 396h2M115 396h2M92 397h2M94 397h2M97 397h2M102 397h2M104 397h2M109 397h2M92 398h2M98 398h8M107 398h2M93 399h2M98 399h5M103 399h7M112 399h2M87 400h2M94 400h5M101 400h2M103 400h2M107 400h2M111 400h2M113 400h2M96 401h3M101 401h2M107 401h5M112 401h2M99 402h3M102 402h6M110 402h2M112 402h2M125 402h2M129 402h2M87 403h2M90 403h2M92 403h4M96 403h3M100 403h2M102 403h5M109 403h2M111 403h3M120 403h2M97 404h5M102 404h8M110 404h3M113 404h3M120 404h2M91 405h3M94 405h8M102 405h2M104 405h3M107 405h2M109 405h2M111 405h2M113 405h3M117 405h2M93 406h3M97 406h12M110 406h2M112 406h2M114 406h2M116 406h3M94 407h4M98 407h12M110 407h4M115 407h2M88 408h2M93 408h3M96 408h5M101 408h11M114 408h2M91 409h7M98 409h6M104 409h8M114 409h2M117 409h2M90 410h2M92 410h2M94 410h3M97 410h11M108 410h2M110 410h3M113 410h2M117 410h2M119 410h2M91 411h2M93 411h2M96 411h20M117 411h2M87 412h2M89 412h2M91 412h2M94 412h3M97 412h14M111 412h4M87 413h2M91 413h14M105 413h7M112 413h5M119 413h3M87 414h2M92 414h17M109 414h3M112 414h2M114 414h2M87 415h2M89 415h2M92 415h2M94 415h2M96 415h8M104 415h9M93 416h5M98 416h9M107 416h7M114 416h2M117 416h2M121 416h2M89 417h2M92 417h11M103 417h7M110 417h4M114 417h3M87 418h2M93 418h18M116 418h2M87 419h2M89 419h5M94 419h2M96 419h13M110 419h4M117 419h2M87 420h2M95 420h4M99 420h14M114 420h3M90 421h2M92 421h2M94 421h2M98 421h12M113 421h3M87 422h2M91 422h2M93 422h8M101 422h11M112 422h3M119 422h2M90 423h2M92 423h3M95 423h2M98 423h2M100 423h12M112 423h4M90 424h2M94 424h18M113 424h3M97 425h6M103 425h3M106 425h2M108 425h2M110 425h2M112 425h2M114 425h2M116 425h2M98 426h5M103 426h9M115 426h3M87 427h2M93 427h4M97 427h2M100 427h9M109 427h4M113 427h2M119 427h2M126 427h2M93 428h2M96 428h2M99 428h5M104 428h4M110 428h3M114 428h3M87 429h2M94 429h2M97 429h12M109 429h2M112 429h2M115 429h2M95 430h4M99 430h5M104 430h3M108 430h2M95 431h2M98 431h2M100 431h3M106 431h3M109 431h4M95 432h2M98 432h2M101 432h5M106 432h4M98 433h3M101 433h2M104 433h2M106 433h2M108 433h2M110 433h2M112 433h2M95 434h2M100 434h2M103 434h4M111 434h2M91 435h2M96 435h3M102 435h2M104 435h2M107 435h3M106 436h2M108 436h2M102 437h2M98 438h2M103 438h2M105 438h2M107 438h2M96 439h2M99 439h2M102 439h2M109 439h2M98 440h2M106 440h2M112 440h2M105 441h2M113 443h2M96 444h2M104 444h2M101 445h2M107 445h2M100 447h2M104 447h2M106 447h2M112 447h2M117 447h2" stroke="#000" stroke-opacity="0.88" stroke-width="2" fill="none"/>
<text class="s" x="26.4" y="167.5" font-size="11.5" text-anchor="start" fill="#111">10<tspan font-size="8.5" dy="-4">4</tspan></text>
<text class="s" x="26.4" y="226.0" font-size="11.5" text-anchor="start" fill="#111">10<tspan font-size="8.5" dy="-4">0</tspan></text>
<text class="s" x="38.0" y="235.7" font-size="11.5" text-anchor="start" fill="#111">10<tspan font-size="8.5" dy="-4">0</tspan></text>
<text class="s" x="116.4" y="235.9" font-size="11.5" text-anchor="start" fill="#111">10<tspan font-size="8.5" dy="-4">4</tspan></text>
<rect x="155" y="162.5" width="80.5" height="61.80000000000001" fill="#fff" stroke="#777" stroke-width="1"/>
<line x1="182.8" y1="162.5" x2="182.8" y2="224.3" stroke="#666" stroke-width="0.8"/>
<line x1="155" y1="187.5" x2="235.5" y2="187.5" stroke="#666" stroke-width="0.8"/>
<path transform="scale(.5)" d="M397 328h2M406 328h2M369 329h2M371 329h2M431 329h2M351 330h2M405 330h2M388 331h2M400 331h2M416 331h2M349 332h2M384 332h2M366 333h2M392 333h2M410 333h2M418 333h2M427 333h2M353 334h3M358 334h2M392 334h2M431 334h2M357 335h2M367 335h2M393 335h2M397 335h2M405 335h2M410 335h2M363 336h2M381 336h2M388 336h2M390 336h2M395 336h2M407 336h2M416 336h2M381 337h2M388 337h2M371 338h2M376 338h2M390 338h2M401 338h4M406 338h2M417 338h3M340 339h2M342 339h2M362 339h2M366 339h2M374 339h2M382 339h2M401 339h2M403 339h2M407 339h2M466 339h2M344 340h2M363 340h2M374 340h2M402 340h2M409 340h3M362 341h2M368 341h2M376 341h2M382 341h2M401 341h2M412 341h2M414 341h2M416 341h2M365 342h2M381 342h2M390 342h2M398 342h2M367 343h2M390 343h2M392 343h2M395 343h2M397 343h2M419 343h2M355 344h3M361 344h2M364 344h2M400 344h2M403 344h2M424 344h2M341 345h2M348 345h2M351 345h3M362 345h2M393 345h2M398 345h2M400 345h2M402 345h2M413 345h2M421 345h2M423 345h2M356 346h2M359 346h2M382 346h2M391 346h2M395 346h2M398 346h2M400 346h2M405 346h2M420 346h2M422 346h2M440 346h2M324 347h3M355 347h2M388 347h2M404 347h2M432 347h2M390 348h2M394 348h3M397 348h2M404 348h2M408 348h2M356 349h3M362 349h2M364 349h2M366 349h2M384 349h2M391 349h2M401 349h6M350 350h2M363 350h2M388 350h3M394 350h2M401 350h2M410 350h2M421 350h2M354 351h2M357 351h2M377 351h2M391 351h2M393 351h2M398 351h2M400 351h2M402 351h2M406 351h3M418 351h2M439 351h2M341 352h2M356 352h3M366 352h2M373 352h2M379 352h2M383 352h2M386 352h2M389 352h2M393 352h3M400 352h2M404 352h2M418 352h2M457 352h2M349 353h2M351 353h2M353 353h2M371 353h2M386 353h3M393 353h3M396 353h3M399 353h2M412 353h3M460 353h2M339 354h2M349 354h2M353 354h2M355 354h2M380 354h2M389 354h2M391 354h2M399 354h3M426 354h2M335 355h2M341 355h2M346 355h2M350 355h2M355 355h2M359 355h2M389 355h2M395 355h3M410 355h2M352 356h2M359 356h2M369 356h2M372 356h3M390 356h2M429 356h2M435 356h2M318 357h2M359 357h2M372 357h2M380 357h2M382 357h3M400 357h3M418 357h2M422 357h2M347 358h2M369 358h3M376 358h2M385 358h2M388 358h3M398 358h2M403 358h2M406 358h2M410 358h2M422 358h2M447 358h2M356 359h2M360 359h2M362 359h2M370 359h2M379 359h2M381 359h2M387 359h3M351 360h2M370 360h2M373 360h2M378 360h3M383 360h2M392 360h2M400 360h2M323 361h2M350 361h3M356 361h2M361 361h3M373 361h2M383 361h2M386 361h2M400 361h2M402 361h2M408 361h2M360 362h2M369 362h2M385 362h4M395 362h2M402 362h2M342 363h2M357 363h3M363 363h2M368 363h2M377 363h2M379 363h2M384 363h2M388 363h2M399 363h2M317 364h2M334 364h2M352 364h2M358 364h2M407 364h2M463 364h2M329 365h2M352 365h2M355 365h2M358 365h2M390 365h2M342 366h2M362 366h2M405 366h2M359 367h2M366 367h2M380 367h2M339 368h2M354 368h2M364 368h2M366 368h2M373 368h2M380 368h2M409 368h2M359 369h2M372 369h2M408 369h2M320 370h2M334 370h2M365 370h2M384 370h2M392 370h2M361 371h2M345 372h2M348 372h2M361 372h2M369 372h3M385 372h2M349 373h2M352 373h2M367 373h2M363 374h2M366 374h2M326 375h2M338 375h2M344 375h2M351 375h2M365 375h2M368 375h2M388 375h2M338 376h2M377 376h2M455 376h2M339 377h3M387 377h2M445 377h2M342 378h3M347 378h2M349 378h2M356 378h2M359 378h2M383 378h2M342 379h2M349 379h2M391 379h2M410 379h2M326 380h3M354 380h2M343 381h2M314 382h2M330 382h2M340 382h2M346 382h2M349 382h2M354 382h2M357 382h2M367 382h2M433 382h2M327 383h2M331 383h2M338 383h2M351 383h2M361 383h2M368 383h2M401 383h2M337 384h2M345 384h2M350 384h2M357 384h2M359 384h2M365 384h2M335 385h2M339 385h2M354 385h2M356 385h2M359 385h3M365 385h2M407 385h2M320 386h2M336 386h2M341 386h2M345 386h3M351 386h3M355 386h2M358 386h3M362 386h2M368 386h2M326 387h2M329 387h2M333 387h2M338 387h3M346 387h2M354 387h2M359 387h2M366 387h2M374 387h2M391 387h2M393 387h2M331 388h3M335 388h2M338 388h2M341 388h2M343 388h2M351 388h2M381 388h2M399 388h3M335 389h2M340 389h2M351 389h3M354 389h2M360 389h2M363 389h2M366 389h2M386 389h2M390 389h2M401 389h2M311 390h2M325 390h2M327 390h2M334 390h2M336 390h2M340 390h2M346 390h2M355 390h3M358 390h3M365 390h2M371 390h2M320 391h3M328 391h3M338 391h2M340 391h3M349 391h2M356 391h2M369 391h2M326 392h2M330 392h3M333 392h2M335 392h4M346 392h3M350 392h2M355 392h2M362 392h2M387 392h2M389 392h2M326 393h2M330 393h2M332 393h2M337 393h3M343 393h2M345 393h3M350 393h4M355 393h2M361 393h2M372 393h2M388 393h2M403 393h2M319 394h2M339 394h2M347 394h2M358 394h3M362 394h3M368 394h2M375 394h2M378 394h2M381 394h2M383 394h2M403 394h2M430 394h2M311 395h3M323 395h2M328 395h2M331 395h2M341 395h3M344 395h2M350 395h2M354 395h2M358 395h2M363 395h2M375 395h2M331 396h3M334 396h4M338 396h2M345 396h2M347 396h2M350 396h2M357 396h2M361 396h2M392 396h2M318 397h2M327 397h3M331 397h2M333 397h2M337 397h2M340 397h2M343 397h2M346 397h2M352 397h2M355 397h2M357 397h2M361 397h2M363 397h2M374 397h2M393 397h2M315 398h2M329 398h2M331 398h2M346 398h2M350 398h2M352 398h3M361 398h2M367 398h2M377 398h2M383 398h2M316 399h2M319 399h2M324 399h2M326 399h2M334 399h3M338 399h2M341 399h2M343 399h4M352 399h2M354 399h2M361 399h2M311 400h2M328 400h2M331 400h3M334 400h2M338 400h2M344 400h2M348 400h2M350 400h2M357 400h2M359 400h2M324 401h2M327 401h2M330 401h2M333 401h3M336 401h3M340 401h3M343 401h3M346 401h2M351 401h2M357 401h2M387 401h2M408 401h2M311 402h2M314 402h2M317 402h2M323 402h2M330 402h2M332 402h5M338 402h2M343 402h2M346 402h4M352 402h3M358 402h2M386 402h2M313 403h2M316 403h2M320 403h2M326 403h2M328 403h2M331 403h2M341 403h3M346 403h2M374 403h2M401 403h2M406 403h2M315 404h2M318 404h3M322 404h4M330 404h2M335 404h2M338 404h2M341 404h3M344 404h3M350 404h3M353 404h2M361 404h2M364 404h2M378 404h2M390 404h3M421 404h2M313 405h2M321 405h2M324 405h2M333 405h3M336 405h2M338 405h2M342 405h2M352 405h2M400 405h3M313 406h2M315 406h2M327 406h3M330 406h2M336 406h5M342 406h3M345 406h2M348 406h2M354 406h3M360 406h2M369 406h2M371 406h2M379 406h2M388 406h2M395 406h2M401 406h2M312 407h3M319 407h2M321 407h2M331 407h2M337 407h2M341 407h2M344 407h2M346 407h2M348 407h2M354 407h2M359 407h2M362 407h2M374 407h2M389 407h2M396 407h2M416 407h2M313 408h2M321 408h4M327 408h2M330 408h4M335 408h3M338 408h2M340 408h2M342 408h3M350 408h2M353 408h2M364 408h2M367 408h2M378 408h2M388 408h2M390 408h2M401 408h2M315 409h2M320 409h2M324 409h2M326 409h2M328 409h2M331 409h3M334 409h2M336 409h3M342 409h2M345 409h3M349 409h3M354 409h2M357 409h3M363 409h2M373 409h2M376 409h2M389 409h2M406 409h2M318 410h4M323 410h2M325 410h2M328 410h3M332 410h2M334 410h3M337 410h2M341 410h5M352 410h2M355 410h2M362 410h2M387 410h3M392 410h2M396 410h2M318 411h2M320 411h2M322 411h2M327 411h2M329 411h2M333 411h3M337 411h2M343 411h3M346 411h4M352 411h2M354 411h3M358 411h2M361 411h2M365 411h2M376 411h2M378 411h2M388 411h2M390 411h2M452 411h2M311 412h2M313 412h3M320 412h2M324 412h3M329 412h3M336 412h2M339 412h2M341 412h2M354 412h3M358 412h2M375 412h2M398 412h2M434 412h2M314 413h2M316 413h2M322 413h3M326 413h2M329 413h4M333 413h2M336 413h2M343 413h4M349 413h2M360 413h2M367 413h2M374 413h2M379 413h2M383 413h2M391 413h2M393 413h2M396 413h2M402 413h2M311 414h3M316 414h2M318 414h2M330 414h3M336 414h2M343 414h2M347 414h2M353 414h3M379 414h2M386 414h2M388 414h2M402 414h2M442 414h2M313 415h2M316 415h2M318 415h2M320 415h5M330 415h2M335 415h2M337 415h2M341 415h5M347 415h2M353 415h4M395 415h2M312 416h2M315 416h2M317 416h2M319 416h2M323 416h2M325 416h2M328 416h2M330 416h3M333 416h5M338 416h2M346 416h3M349 416h3M357 416h2M362 416h2M377 416h2M380 416h2M387 416h3M391 416h2M396 416h2M311 417h3M314 417h2M320 417h3M323 417h2M326 417h2M328 417h2M334 417h2M336 417h2M342 417h2M344 417h4M348 417h2M356 417h2M361 417h2M389 417h2M392 417h2M396 417h3M400 417h2M311 418h2M313 418h2M316 418h3M319 418h2M324 418h3M327 418h2M329 418h3M338 418h2M341 418h2M344 418h2M346 418h4M352 418h2M355 418h2M364 418h2M380 418h2M382 418h2M385 418h2M391 418h2M407 418h2M311 419h2M316 419h2M319 419h3M333 419h2M335 419h2M342 419h4M347 419h2M349 419h3M354 419h2M356 419h3M387 419h3M413 419h2M311 420h2M313 420h2M320 420h2M323 420h4M329 420h3M332 420h2M334 420h4M340 420h5M345 420h2M348 420h2M351 420h2M359 420h2M379 420h2M389 420h2M391 420h2M394 420h2M408 420h2M312 421h2M314 421h3M317 421h3M320 421h2M324 421h2M329 421h2M332 421h2M335 421h2M338 421h2M347 421h2M349 421h2M352 421h2M367 421h2M374 421h2M376 421h2M311 422h2M318 422h2M321 422h2M325 422h3M340 422h2M345 422h2M347 422h3M351 422h2M386 422h3M392 422h2M401 422h2M311 423h2M314 423h3M319 423h3M322 423h2M327 423h2M332 423h3M337 423h4M341 423h3M344 423h3M350 423h2M357 423h2M361 423h2M380 423h2M313 424h3M319 424h3M322 424h2M329 424h2M333 424h2M336 424h2M343 424h2M347 424h2M349 424h2M352 424h2M355 424h2M357 424h2M363 424h2M389 424h2M396 424h2M313 425h2M315 425h3M320 425h2M322 425h3M325 425h3M331 425h3M338 425h2M341 425h3M344 425h3M348 425h2M350 425h2M357 425h2M391 425h2M312 426h2M331 426h3M334 426h3M338 426h2M340 426h2M343 426h3M350 426h3M354 426h2M368 426h2M382 426h2M312 427h3M320 427h2M322 427h3M329 427h2M331 427h2M333 427h2M337 427h2M343 427h2M348 427h2M353 427h2M355 427h2M395 427h2M406 427h2M414 427h2M313 428h2M317 428h6M327 428h2M330 428h2M337 428h2M339 428h2M341 428h2M348 428h4M384 428h2M313 429h2M315 429h2M320 429h2M322 429h2M326 429h2M332 429h4M336 429h2M340 429h4M344 429h2M390 429h2M312 430h4M317 430h2M322 430h2M325 430h2M327 430h4M333 430h2M335 430h2M339 430h3M399 430h2M312 431h3M317 431h3M321 431h2M323 431h2M325 431h2M329 431h2M335 431h2M338 431h2M340 431h3M343 431h2M345 431h2M392 431h2M398 431h2M314 432h2M316 432h2M319 432h2M323 432h2M327 432h3M331 432h2M338 432h2M355 432h2M393 432h2M395 432h2M398 432h2M417 432h2M313 433h2M315 433h4M319 433h3M323 433h4M327 433h2M331 433h2M333 433h2M335 433h2M337 433h4M350 433h3M364 433h2M383 433h2M387 433h2M312 434h2M314 434h2M319 434h4M327 434h3M335 434h5M353 434h2M360 434h2M389 434h2M313 435h2M316 435h2M320 435h2M324 435h2M326 435h2M331 435h2M335 435h2M341 435h2M346 435h2M350 435h2M384 435h2M318 436h2M322 436h3M325 436h2M328 436h2M331 436h2M386 436h2M389 436h2M312 437h2M315 437h3M320 437h2M322 437h3M328 437h5M333 437h2M335 437h3M339 437h3M343 437h2M350 437h2M381 437h2M315 438h3M319 438h2M321 438h2M323 438h2M326 438h2M330 438h2M332 438h2M335 438h2M353 438h2M314 439h4M320 439h2M323 439h4M329 439h3M337 439h2M340 439h3M351 439h2M387 439h2M311 440h2M315 440h4M324 440h3M329 440h2M331 440h2M335 440h2M343 440h2M311 441h2M315 441h2M318 441h2M321 441h2M324 441h2M326 441h2M328 441h4M332 441h2M335 441h2M338 441h3M366 441h2M314 442h2M317 442h2M319 442h2M322 442h2M332 442h3M336 442h3M377 442h2M408 442h2M311 443h2M315 443h2M317 443h4M321 443h2M324 443h3M329 443h2M331 443h3M337 443h2M344 443h2M348 443h2M367 443h2M397 443h2M399 443h2M449 443h2M319 444h2M325 444h3M328 444h3M331 444h2M339 444h2M322 445h2M324 445h2M327 445h2M340 445h2M342 445h2M349 445h2M420 445h2M457 445h2M328 446h2M335 446h2M339 446h2M342 446h2M350 446h2M373 446h2M386 446h2M390 446h3M394 446h2M400 446h2" stroke="#000" stroke-opacity="0.4" stroke-width="2" fill="none"/>
<path transform="scale(.5)" d="M394 328h2M376 329h2M391 332h2M394 334h2M379 335h2M385 335h2M374 336h2M376 336h2M379 336h2M389 336h2M371 337h2M379 337h2M382 337h2M385 337h2M393 337h2M373 338h2M377 338h2M379 338h2M383 338h3M387 338h3M365 339h2M370 339h2M372 339h3M377 339h2M379 339h3M383 339h3M387 339h2M389 339h2M392 339h3M410 339h2M367 340h2M375 340h2M378 340h3M381 340h4M385 340h2M387 340h2M389 340h2M395 340h3M365 341h2M370 341h4M375 341h2M378 341h2M384 341h2M388 341h2M390 341h4M394 341h2M366 342h3M374 342h2M376 342h2M382 342h2M384 342h2M389 342h2M391 342h2M395 342h3M401 342h2M368 343h2M370 343h3M373 343h2M383 343h3M386 343h2M389 343h2M349 344h2M363 344h2M368 344h3M377 344h2M381 344h2M384 344h2M386 344h3M394 344h2M366 345h2M368 345h4M375 345h2M377 345h3M381 345h2M395 345h2M358 346h2M362 346h2M364 346h2M367 346h2M372 346h2M380 346h2M386 346h2M389 346h2M392 346h2M397 346h2M358 347h2M360 347h3M364 347h5M371 347h2M373 347h2M377 347h2M384 347h2M392 347h2M394 347h2M402 347h2M362 348h2M365 348h3M371 348h3M377 348h2M384 348h2M389 348h2M391 348h4M361 349h2M367 349h2M369 349h2M378 349h2M382 349h3M390 349h2M354 350h2M366 350h2M369 350h2M371 350h3M374 350h2M385 350h2M364 351h2M367 351h2M369 351h2M375 351h3M378 351h5M385 351h3M388 351h2M390 351h2M392 351h2M401 351h2M345 352h2M350 352h2M353 352h2M359 352h2M362 352h3M365 352h2M368 352h3M374 352h2M381 352h2M390 352h2M360 353h3M365 353h3M368 353h2M375 353h2M378 353h2M380 353h3M384 353h3M359 354h2M361 354h2M364 354h2M367 354h2M369 354h2M376 354h2M382 354h2M384 354h2M364 355h4M371 355h3M376 355h2M379 355h3M385 355h2M364 356h2M366 356h2M370 356h2M375 356h6M381 356h2M366 357h2M371 357h2M374 357h5M385 357h2M362 358h2M365 358h2M368 358h2M377 358h3M387 358h2M373 359h2M375 359h2M377 359h2M409 359h2M357 360h2M366 360h2M372 360h2M382 360h2M347 361h2M357 361h2M375 361h2M384 361h2M389 361h2M373 364h2M362 368h2M327 378h2M352 383h2M349 385h2M342 386h2M312 391h2M347 393h2M340 394h2M353 395h2M340 396h2M344 396h2M359 396h2M378 396h2M324 397h2M335 397h2M356 397h2M349 398h2M347 399h2M376 399h2M325 400h2M327 400h2M329 400h2M354 400h2M329 402h2M331 402h2M337 402h2M344 402h2M329 403h2M340 404h2M352 404h2M335 405h2M344 405h2M353 405h2M331 406h2M334 406h2M325 407h2M335 407h2M311 408h2M337 408h2M339 408h2M344 408h3M311 409h2M313 409h2M327 409h2M330 409h2M344 409h2M311 410h2M324 410h2M327 410h2M333 410h2M338 410h4M350 410h2M332 411h2M336 411h2M351 411h2M313 413h2M338 413h2M346 413h2M339 414h2M314 415h2M331 415h2M338 415h3M345 415h2M352 415h2M324 417h2M330 417h2M341 417h2M350 417h2M328 418h2M331 418h2M330 419h2M348 419h2M328 421h2M340 421h3M348 421h2M351 421h2M329 422h2M333 422h6M329 423h2M327 424h2M344 424h2M343 425h2M352 425h2M329 426h2M339 426h2M330 427h2M334 427h2M344 427h2M333 428h3M338 428h2M345 428h2M311 429h2M331 429h2M337 429h2M350 429h2M338 430h2M331 431h3M390 431h2M335 432h2M347 433h2M324 434h2M329 435h2M336 436h2M312 438h2M314 440h2M318 440h2M332 440h2M344 440h2M327 441h2M311 442h2M332 444h2M313 446h2M334 446h2M340 446h2" stroke="#000" stroke-opacity="0.62" stroke-width="2" fill="none"/>
<path transform="scale(.5)" d="M372 337h2M386 337h2M397 337h2M375 338h2M376 339h2M377 340h2M380 340h2M384 340h2M391 340h2M373 341h3M377 341h2M379 341h3M383 341h2M385 341h3M372 342h3M375 342h2M377 342h4M383 342h2M386 342h2M388 342h2M366 343h2M374 343h8M385 343h2M387 343h2M366 344h2M370 344h2M372 344h2M374 344h4M378 344h4M382 344h3M385 344h2M388 344h2M363 345h2M367 345h2M372 345h4M376 345h2M379 345h3M382 345h4M386 345h2M388 345h2M391 345h3M369 346h4M373 346h8M381 346h2M383 346h3M387 346h3M390 346h2M368 347h4M372 347h2M374 347h4M378 347h7M385 347h4M389 347h2M395 347h2M364 348h2M368 348h4M373 348h5M378 348h5M383 348h2M387 348h2M363 349h2M365 349h2M368 349h2M371 349h7M379 349h4M385 349h3M365 350h2M367 350h3M370 350h2M373 350h2M375 350h9M384 350h2M360 351h2M362 351h2M368 351h2M370 351h6M382 351h3M367 352h2M370 352h3M375 352h5M382 352h2M369 353h3M372 353h2M374 353h2M376 353h3M382 353h2M366 354h2M368 354h2M371 354h2M374 354h2M379 354h2M385 354h2M363 355h2M367 355h2M375 355h2M377 355h2M381 355h2M378 357h2M381 357h2M363 359h2M353 378h2M339 391h2M319 393h2M343 394h2M345 394h2M342 396h2M332 398h3M337 398h2M340 398h2M355 398h2M329 399h2M342 400h2M332 401h2M336 402h2M356 402h2M323 403h2M332 403h2M344 403h2M350 403h2M328 404h2M332 404h3M317 405h2M320 405h2M326 405h3M329 405h2M331 405h3M325 406h2M341 406h2M333 407h3M339 407h2M324 408h2M326 408h2M328 408h2M341 408h2M346 408h2M325 409h2M329 409h2M333 409h2M338 409h2M330 410h2M345 410h2M353 410h2M357 410h2M311 411h2M321 411h2M324 411h2M326 411h2M328 411h2M331 411h2M340 411h2M331 412h6M338 412h2M311 413h2M324 413h3M327 413h2M334 413h2M339 413h2M341 413h2M347 413h2M313 414h2M319 414h3M323 414h3M327 414h2M329 414h2M332 414h5M337 414h3M346 414h2M311 415h2M327 415h4M332 415h4M340 415h2M349 415h2M311 416h2M329 416h2M332 416h2M339 416h2M343 416h2M318 417h2M325 417h2M327 417h2M333 417h2M335 417h2M337 417h2M340 417h2M320 418h4M332 418h4M336 418h3M340 418h2M342 418h2M345 418h2M321 419h2M323 419h8M331 419h3M334 419h2M336 419h2M339 419h2M315 420h3M326 420h4M331 420h2M333 420h2M339 420h2M311 421h2M316 421h2M321 421h2M323 421h2M325 421h4M330 421h2M334 421h2M336 421h3M343 421h2M320 422h2M323 422h2M327 422h3M330 422h3M338 422h3M344 422h2M321 423h2M323 423h4M328 423h2M330 423h3M334 423h2M340 423h2M311 424h2M318 424h2M323 424h2M325 424h2M331 424h2M334 424h3M337 424h6M311 425h2M314 425h2M318 425h2M324 425h2M327 425h2M330 425h2M334 425h3M337 425h2M340 425h2M311 426h2M318 426h2M320 426h3M324 426h6M330 426h2M333 426h2M337 426h2M341 426h3M355 426h2M316 427h2M319 427h2M321 427h2M324 427h2M327 427h3M332 427h2M335 427h2M340 427h2M311 428h2M314 428h2M322 428h6M329 428h2M331 428h2M340 428h2M319 429h2M321 429h2M323 429h3M327 429h4M335 429h2M311 430h2M318 430h2M320 430h2M326 430h2M330 430h3M334 430h2M337 430h2M341 430h2M311 431h2M315 431h3M320 431h2M322 431h2M326 431h4M333 431h2M337 431h2M311 432h2M320 432h2M325 432h2M329 432h2M332 432h2M337 432h2M342 432h2M311 433h2M314 433h2M329 433h2M332 433h2M340 433h2M311 434h2M322 434h2M326 434h2M330 434h3M311 435h2M325 435h2M333 435h2M319 436h3M324 436h2M329 436h3M332 436h2M311 437h2M317 437h2M319 437h2M324 437h4M332 437h2M311 438h2M314 438h2M320 438h2M311 439h2M331 439h2M321 440h3M326 440h3M323 441h2M333 441h2M321 442h2M323 442h2M312 443h2M323 443h2M327 443h2M333 443h2M330 444h2M311 445h2M320 445h2M325 445h2M311 446h3M314 446h3M317 446h12M329 446h2M332 446h3M336 446h4" stroke="#000" stroke-opacity="0.88" stroke-width="2" fill="none"/>
<text class="s" x="137.0" y="167.5" font-size="11.5" text-anchor="start" fill="#111">10<tspan font-size="8.5" dy="-4">4</tspan></text>
<text class="s" x="137.0" y="225.8" font-size="11.5" text-anchor="start" fill="#111">10<tspan font-size="8.5" dy="-4">0</tspan></text>
<text class="s" x="148.5" y="235.5" font-size="11.5" text-anchor="start" fill="#111">10<tspan font-size="8.5" dy="-4">0</tspan></text>
<text class="s" x="227.9" y="235.70000000000002" font-size="11.5" text-anchor="start" fill="#111">10<tspan font-size="8.5" dy="-4">4</tspan></text>
<text class="s" x="0" y="0" font-size="18.6" text-anchor="start" transform="translate(19.4 211.5) rotate(-90) scale(0.835 1)" fill="#111">CD71</text>
<text class="s" x="58.5" y="246.3" font-size="15.6" text-anchor="start" fill="#111">Ter119</text>
<line x1="116" y1="243.7" x2="209.3" y2="243.7" stroke="#888" stroke-width="0.9"/>
<polygon points="206.3,240.1 213.3,243.7 206.3,247.29999999999998" fill="#111"/>
<text class="s" x="121.2" y="184.2" font-size="11.1" text-anchor="end" font-weight="bold" fill="#111">3±2</text>
<text class="s" x="121.2" y="215.7" font-size="11.1" text-anchor="end" font-weight="bold" fill="#111">3±1</text>
<text class="s" x="235" y="183.5" font-size="11.1" text-anchor="end" font-weight="bold" fill="#111">21±10</text>
<text class="s" x="235" y="216.5" font-size="11.1" text-anchor="end" font-weight="bold" fill="#111">6±2</text>
<polyline points="55.5,278.5 55.5,275 83,275" fill="none" stroke="#222" stroke-width="1.1"/>
<text class="s" x="139.2" y="282" font-size="18.6" text-anchor="middle" fill="#111">Bone marrow</text>
<polyline points="196,275 224.3,275 224.3,278.5" fill="none" stroke="#222" stroke-width="1.1"/>
<text class="s" x="86" y="302" font-size="17" text-anchor="middle" fill="#111">+/+</text>
<text class="s" x="181" y="303" font-size="17" text-anchor="start" fill="#111">Lyn<tspan font-size="15" dy="-5">-/-</tspan></text>
<rect x="43.2" y="313" width="81.0" height="61.60000000000002" fill="#fff" stroke="#777" stroke-width="1"/>
<line x1="69.3" y1="313" x2="69.3" y2="374.6" stroke="#666" stroke-width="0.8"/>
<line x1="43.2" y1="342.5" x2="124.2" y2="342.5" stroke="#666" stroke-width="0.8"/>
<path transform="scale(.5)" d="M194 627h2M189 629h2M195 629h2M207 629h2M196 630h2M184 631h2M195 631h2M182 632h2M184 632h2M186 632h2M190 632h2M231 632h2M157 633h2M163 633h2M178 633h2M182 633h3M187 633h2M148 634h2M182 634h3M187 634h3M194 634h2M196 634h2M201 634h2M164 635h2M170 635h2M177 635h2M182 635h3M185 635h2M195 635h2M198 635h2M179 636h2M181 636h2M183 636h3M123 637h2M160 637h2M165 637h2M171 637h2M181 637h3M185 637h2M190 637h2M199 637h2M161 638h2M169 638h2M171 638h2M175 638h2M178 638h2M180 638h2M184 638h2M188 638h2M193 638h2M131 639h2M156 639h2M169 639h3M173 639h2M177 639h2M179 639h2M184 639h3M190 639h2M193 639h2M156 640h2M160 640h2M167 640h2M174 640h2M177 640h2M179 640h2M183 640h2M159 641h2M164 641h2M176 641h2M181 641h2M186 641h2M194 641h2M159 642h2M167 642h2M169 642h3M172 642h2M176 642h3M180 642h2M186 642h2M170 643h2M174 643h2M177 643h2M182 643h2M149 644h2M156 644h2M158 644h2M172 644h2M175 644h2M179 644h2M182 644h2M151 645h2M165 645h2M175 645h3M187 645h2M155 646h2M171 646h2M178 646h2M182 646h2M156 647h2M164 647h3M168 647h2M172 647h2M175 647h3M179 647h3M182 647h2M186 647h2M143 648h2M145 648h2M163 648h2M172 648h2M184 648h2M95 649h2M146 649h2M176 649h2M144 650h2M147 650h2M165 650h2M170 650h2M172 650h4M181 650h2M110 651h2M149 651h2M168 651h2M174 651h2M137 652h2M142 653h2M152 653h2M176 653h2M178 653h2M111 654h2M148 654h2M151 654h2M133 655h2M140 656h2M157 656h2M160 657h2M148 658h2M153 658h2M130 659h2M145 659h3M150 659h2M139 660h2M142 660h2M144 660h2M124 661h2M130 661h2M138 661h2M141 661h2M129 662h2M136 662h2M142 662h3M148 662h2M150 662h2M125 663h2M131 663h3M146 663h2M95 664h2M133 664h2M136 664h2M138 664h2M143 664h2M149 664h2M178 664h2M118 665h2M126 665h2M131 665h2M134 665h2M136 665h2M143 665h2M158 665h2M120 666h2M124 666h2M126 666h2M129 666h3M133 666h2M135 666h2M139 666h2M141 666h2M147 666h3M236 666h2M116 667h2M131 667h2M133 667h2M136 667h2M140 667h2M148 667h2M107 668h2M124 668h2M126 668h3M136 668h2M140 668h2M142 668h2M204 668h2M111 669h2M117 669h2M123 669h2M129 669h2M132 669h2M136 669h2M139 669h2M144 669h2M105 670h2M115 670h2M126 670h2M129 670h2M133 670h2M138 670h2M140 670h2M142 670h2M108 671h2M115 671h3M120 671h2M124 671h2M131 671h3M134 671h2M139 671h2M142 671h2M144 671h2M146 671h2M148 671h2M154 671h2M115 672h2M124 672h3M131 672h2M134 672h2M145 672h2M147 672h2M117 673h2M126 673h6M132 673h5M151 673h2M158 673h2M103 674h2M107 674h2M121 674h2M130 674h3M106 675h2M108 675h2M113 675h2M120 675h6M127 675h3M130 675h2M132 675h5M137 675h2M142 675h3M145 675h2M114 676h4M118 676h2M121 676h4M126 676h3M130 676h2M138 676h3M148 676h2M165 676h2M123 677h2M125 677h2M128 677h6M134 677h6M144 677h2M185 677h2M102 678h2M107 678h2M109 678h2M115 678h2M121 678h2M123 678h2M126 678h4M136 678h2M139 678h2M214 678h2M92 679h2M108 679h2M114 679h2M116 679h2M119 679h2M122 679h2M124 679h3M127 679h2M130 679h3M88 680h2M96 680h2M109 680h2M114 680h2M116 680h2M118 680h2M121 680h2M131 680h2M136 680h2M111 681h2M113 681h3M117 681h2M125 681h5M130 681h2M137 681h4M196 681h2M115 682h2M118 682h2M120 682h2M131 682h3M142 682h2M147 682h2M159 682h2M95 683h2M100 683h2M112 683h2M116 683h2M125 683h2M131 683h2M139 683h2M96 684h2M99 684h2M101 684h2M121 684h2M125 684h2M127 684h2M129 684h2M133 684h2M135 684h3M145 684h2M106 685h2M113 685h3M122 685h2M124 685h3M131 685h2M137 685h2M100 686h2M110 686h2M118 686h2M126 686h3M129 686h2M131 686h2M138 686h2M141 686h2M94 687h2M99 687h2M106 687h2M111 687h2M114 687h3M119 687h2M122 687h2M129 687h2M133 687h2M138 687h2M141 687h2M104 688h2M119 688h2M122 688h2M124 688h3M127 688h2M129 688h2M136 688h2M140 688h2M93 689h2M105 689h2M116 689h3M120 689h2M122 689h2M124 689h2M128 689h2M169 689h2M88 690h2M98 690h2M108 690h2M116 690h3M119 690h2M122 690h2M124 690h3M130 690h2M132 690h2M137 690h2M141 690h3M107 691h2M109 691h3M118 691h2M120 691h2M125 691h3M135 691h2M93 692h2M98 692h2M103 692h2M108 692h2M110 692h3M118 692h2M121 692h4M133 692h3M138 692h2M102 693h2M107 693h2M112 693h2M120 693h2M124 693h2M127 693h2M131 693h3M134 693h3M138 693h2M155 693h2M92 694h2M110 694h2M113 694h2M126 694h2M128 694h2M95 695h2M107 695h2M112 695h2M117 695h3M120 695h3M123 695h2M140 695h2M172 695h2M95 696h2M108 696h2M114 696h2M121 696h2M130 696h2M144 696h2M101 697h2M105 697h2M109 697h2M112 697h2M122 697h2M124 697h2M130 697h3M134 697h3M142 697h2M146 697h2M90 698h2M112 698h2M119 698h2M122 698h2M126 698h2M128 698h2M94 699h2M124 699h2M134 699h2M110 700h2M115 700h2M125 700h2M128 700h2M132 700h2M143 700h2M99 701h3M108 701h2M124 701h2M151 701h2M184 701h2M105 702h2M114 702h3M120 702h2M126 702h2M128 702h2M131 702h2M100 703h2M105 703h2M129 703h2M138 703h2M140 703h2M156 703h2M164 703h2M168 703h2M94 704h2M97 704h2M121 704h2M124 704h2M129 704h3M156 704h2M120 705h3M127 705h2M132 705h3M136 705h2M117 706h2M120 706h3M126 706h2M139 706h2M94 707h2M105 707h2M121 707h2M133 707h2M169 707h2M88 708h2M97 708h2M105 708h2M127 708h2M125 709h2M137 709h3M88 710h2M123 710h2M128 710h2M173 710h2M115 711h3M120 711h2M125 711h4M88 712h4M125 712h2M132 712h2M139 712h2M99 713h2M102 713h2M122 713h2M124 713h2M129 713h2M131 713h2M136 713h2M179 713h2M109 714h2M118 714h2M134 714h2M146 714h2M114 715h2M157 715h2M165 715h2M94 716h2M142 716h2M88 717h3M120 717h2M125 717h2M127 717h2M130 717h2M117 718h2M120 718h2M129 718h2M166 718h2M140 719h2M90 720h2M88 721h2M122 721h2M127 721h2M173 721h2M88 722h2M94 722h2M126 722h2M136 722h2M159 722h2M177 722h2M123 723h2M89 724h2M123 724h2M129 724h2M158 724h2M161 724h2M91 725h2M94 725h2M124 725h3M88 726h2M95 726h2M104 727h2M125 727h2M130 728h2M95 729h2M92 730h2M95 730h2M134 730h2M161 730h2M169 730h2M88 731h2M95 731h2M91 732h2M116 732h2M119 732h2M94 733h2M89 736h2M172 736h2M145 738h2M150 740h2M93 741h3M115 742h2M93 743h2M88 744h2M99 746h2M89 747h3M109 747h2" stroke="#000" stroke-opacity="0.4" stroke-width="2" fill="none"/>
<path transform="scale(.5)" d="M163 630h2M156 632h3M169 632h2M168 633h2M175 633h2M160 634h2M173 634h2M158 635h4M162 635h2M157 636h2M160 636h2M162 636h2M154 637h2M158 637h3M161 637h2M163 637h3M167 637h2M169 637h2M173 637h2M175 637h2M150 638h2M153 638h2M182 638h2M150 639h2M158 639h3M161 639h4M165 639h2M182 639h2M144 640h2M159 640h2M161 640h3M166 640h2M180 640h2M150 641h4M156 641h3M160 641h4M166 641h2M168 641h3M171 641h2M178 641h2M180 641h2M145 642h2M151 642h3M155 642h2M161 642h4M166 642h2M173 642h2M152 643h2M155 643h4M159 643h2M164 643h4M171 643h2M173 643h2M155 644h2M159 644h4M165 644h2M168 644h4M176 644h2M148 645h2M154 645h3M160 645h2M166 645h2M169 645h3M173 645h3M153 646h2M156 646h2M161 646h2M165 646h2M167 646h2M173 646h2M175 646h2M152 647h5M160 647h3M163 647h2M171 647h2M174 647h2M149 648h2M151 648h6M157 648h2M161 648h3M165 648h2M169 648h2M171 648h2M179 648h2M149 649h2M151 649h2M161 649h4M165 649h2M167 649h2M152 650h2M155 650h2M160 650h2M162 650h3M166 650h3M169 650h2M145 651h2M151 651h2M157 651h3M172 651h2M144 652h2M147 652h2M152 652h2M154 652h3M173 652h2M149 653h2M153 653h2M155 653h2M157 653h3M168 653h2M171 653h3M175 653h2M146 654h2M152 654h2M154 654h2M157 654h2M159 654h2M165 654h6M151 655h6M157 655h3M164 655h2M167 655h3M170 655h2M153 656h3M156 656h2M165 656h6M150 657h5M159 657h2M161 657h2M163 657h2M165 657h4M169 657h2M173 657h3M145 658h2M154 658h3M158 658h2M165 658h2M168 658h4M174 658h2M142 659h2M149 659h2M153 659h2M155 659h2M158 659h2M164 659h3M168 659h2M170 659h2M175 659h2M148 660h2M151 660h2M155 660h2M161 660h2M165 660h2M169 660h3M175 660h2M182 660h2M148 661h2M150 661h2M153 661h2M159 661h3M162 661h2M165 661h2M167 661h2M169 661h5M145 662h2M149 662h2M151 662h2M153 662h2M155 662h3M159 662h2M161 662h4M165 662h3M170 662h3M158 663h2M163 663h2M168 663h3M171 663h2M141 664h2M147 664h2M155 664h5M162 664h2M165 664h2M167 664h3M125 665h2M145 665h2M150 665h2M159 665h4M164 665h2M167 665h4M173 665h2M95 666h2M151 666h2M153 666h4M159 666h2M162 666h2M166 666h2M170 666h2M147 667h2M150 667h3M156 667h3M165 667h2M167 667h2M170 667h2M128 668h2M135 668h2M146 668h2M152 668h2M155 668h3M159 668h2M162 668h2M165 668h2M167 668h2M170 668h2M172 668h2M128 669h2M135 669h2M157 669h2M161 669h3M167 669h2M131 670h2M150 670h4M155 670h2M158 670h2M161 670h2M166 670h3M121 671h2M151 671h3M156 671h3M162 671h3M132 672h2M153 672h3M159 672h4M163 672h2M168 672h2M138 673h2M162 673h2M168 673h2M88 674h2M139 674h2M147 674h3M152 674h2M157 674h4M100 675h2M152 675h3M156 675h2M161 675h2M168 675h2M170 675h2M128 676h2M158 676h2M162 676h2M167 676h2M170 676h2M155 677h2M108 678h2M110 678h2M117 678h2M124 678h2M153 678h2M159 678h2M168 678h2M120 679h2M129 679h2M134 679h2M154 679h2M166 679h2M106 680h2M119 680h2M124 680h2M126 680h2M161 680h2M99 681h2M109 681h2M135 681h2M107 682h2M117 682h2M121 682h5M158 682h2M111 683h2M118 683h3M121 683h2M127 683h2M97 684h2M105 684h2M107 684h2M112 684h2M117 684h3M96 685h2M104 685h2M108 685h2M112 685h2M118 685h3M121 685h2M127 685h2M129 685h2M133 685h2M94 686h2M98 686h3M108 686h2M114 686h3M123 686h3M167 686h2M98 687h2M105 687h2M108 687h4M132 687h2M102 688h2M105 688h3M108 688h3M111 688h3M115 688h2M123 688h2M100 689h3M106 689h2M111 689h2M114 689h2M126 689h2M102 690h3M105 690h2M107 690h2M115 690h2M93 691h2M97 691h2M101 691h2M103 691h2M108 691h2M111 691h2M113 691h3M117 691h2M119 691h2M105 692h2M115 692h3M130 692h2M132 692h2M88 693h2M96 693h2M100 693h2M103 693h2M105 693h3M108 693h3M113 693h2M117 693h2M119 693h2M123 693h2M94 694h4M101 694h3M107 694h4M120 694h2M125 694h2M127 694h2M89 695h2M96 695h2M100 695h5M106 695h2M108 695h2M111 695h2M114 695h2M122 695h2M124 695h2M96 696h2M99 696h2M102 696h2M104 696h2M107 696h2M111 696h3M115 696h3M128 696h2M95 697h2M97 697h2M102 697h2M113 697h4M118 697h2M123 697h2M91 698h2M93 698h2M100 698h2M104 698h3M109 698h3M115 698h2M117 698h2M120 698h2M124 698h3M127 698h2M88 699h2M92 699h2M99 699h2M101 699h2M105 699h3M108 699h4M112 699h2M115 699h2M120 699h2M126 699h2M99 700h4M113 700h3M117 700h2M123 700h2M131 700h2M93 701h2M102 701h3M105 701h3M110 701h4M119 701h4M91 702h2M93 702h3M97 702h2M99 702h3M102 702h2M106 702h4M111 702h2M117 702h4M122 702h2M90 703h2M94 703h2M98 703h2M102 703h2M106 703h3M110 703h2M113 703h2M115 703h2M117 703h2M120 703h2M122 703h2M125 703h3M131 703h2M95 704h2M100 704h3M106 704h2M116 704h2M120 704h2M126 704h2M95 705h3M99 705h2M101 705h2M104 705h2M115 705h3M118 705h2M122 705h3M126 705h2M96 706h2M102 706h3M109 706h2M114 706h2M128 706h2M96 707h2M103 707h2M107 707h2M115 707h2M119 707h3M122 707h2M94 708h2M101 708h2M103 708h3M111 708h2M116 708h3M119 708h2M121 708h6M88 709h2M90 709h2M94 709h2M96 709h2M101 709h2M116 709h3M120 709h2M122 709h2M124 709h2M95 710h3M99 710h2M102 710h2M116 710h8M124 710h2M131 710h2M88 711h2M92 711h2M95 711h2M105 711h2M119 711h2M122 711h2M124 711h2M99 712h2M101 712h2M108 712h2M118 712h3M124 712h2M126 712h2M129 712h3M92 713h2M96 713h2M100 713h3M105 713h3M109 713h2M113 713h2M115 713h3M123 713h2M130 713h2M88 714h2M91 714h2M94 714h4M99 714h2M101 714h2M111 714h2M116 714h2M120 714h2M122 714h3M128 714h2M132 714h2M136 714h2M88 715h2M92 715h2M98 715h2M103 715h3M130 715h2M88 716h3M93 716h2M95 716h4M99 716h4M104 716h2M110 716h2M116 716h2M118 716h2M123 716h3M131 716h2M96 717h2M98 717h2M100 717h2M103 717h2M115 717h3M118 717h3M123 717h3M88 718h3M93 718h3M96 718h2M100 718h2M104 718h2M115 718h2M122 718h2M128 718h2M132 718h2M88 719h3M94 719h3M99 719h2M102 719h2M115 719h2M117 719h2M122 719h2M88 720h2M93 720h2M100 720h3M108 720h2M116 720h4M120 720h5M94 721h3M98 721h2M123 721h2M128 721h2M130 721h2M93 722h2M95 722h2M97 722h2M100 722h2M107 722h2M112 722h2M119 722h2M122 722h5M93 723h2M95 723h2M97 723h2M100 723h4M115 723h3M118 723h3M128 723h2M133 723h2M90 724h2M92 724h4M98 724h2M102 724h3M107 724h2M110 724h2M118 724h3M121 724h2M135 724h2M95 725h2M101 725h3M110 725h3M115 725h2M117 725h2M119 725h2M128 725h3M94 726h2M96 726h2M105 726h2M112 726h2M122 726h2M125 726h3M128 726h2M95 727h2M98 727h3M111 727h2M113 727h2M120 727h2M124 727h2M126 727h2M128 727h2M92 728h4M96 728h3M99 728h4M110 728h2M115 728h4M119 728h4M128 728h2M88 729h2M90 729h2M96 729h2M98 729h2M102 729h2M105 729h3M108 729h2M113 729h3M119 729h2M124 729h2M88 730h2M90 730h2M97 730h3M100 730h2M104 730h2M111 730h2M118 730h2M120 730h2M122 730h2M124 730h2M127 730h2M93 731h2M96 731h2M98 731h2M108 731h2M110 731h2M114 731h2M117 731h4M121 731h2M123 731h3M128 731h2M89 732h3M93 732h5M98 732h3M101 732h2M104 732h2M106 732h2M111 732h2M113 732h4M120 732h2M125 732h3M95 733h2M102 733h2M104 733h2M108 733h2M110 733h2M117 733h3M121 733h3M124 733h2M93 734h2M97 734h2M101 734h2M111 734h2M118 734h2M120 734h3M124 734h2M127 734h2M100 735h2M103 735h3M111 735h2M120 735h4M125 735h2M88 736h2M97 736h3M103 736h2M108 736h2M110 736h2M112 736h2M114 736h3M120 736h2M88 737h2M93 737h2M96 737h3M100 737h3M103 737h4M107 737h2M113 737h3M117 737h2M119 737h2M121 737h3M94 738h2M99 738h3M102 738h2M106 738h2M111 738h3M115 738h2M120 738h2M123 738h2M132 738h2M94 739h2M100 739h3M104 739h2M110 739h2M112 739h4M116 739h2M129 739h2M94 740h3M99 740h3M109 740h2M112 740h4M116 740h3M119 740h2M123 740h2M126 740h2M97 741h3M101 741h3M106 741h2M108 741h2M111 741h2M114 741h3M118 741h3M121 741h2M124 741h2M128 741h2M98 742h2M103 742h3M106 742h2M108 742h2M111 742h3M114 742h2M121 742h3M132 742h2M90 743h4M102 743h2M107 743h5M113 743h2M115 743h2M121 743h2M127 743h2M96 744h2M100 744h3M103 744h3M107 744h2M118 744h2M101 745h2M111 745h2M113 745h2M118 745h2M95 746h3M101 746h2M103 746h2M107 746h2M109 746h2M111 746h2M113 746h3M88 747h2M92 747h2M94 747h3M99 747h2M102 747h3M115 747h2M118 747h2M122 747h3M125 747h3" stroke="#000" stroke-opacity="0.62" stroke-width="2" fill="none"/>
<path transform="scale(.5)" d="M172 637h2M162 638h3M166 638h2M155 639h2M163 640h2M171 640h2M158 641h2M163 641h2M167 641h2M170 641h2M172 641h2M164 642h2M161 643h3M167 643h2M169 643h2M150 644h2M157 644h2M162 644h4M166 644h3M173 644h2M153 645h2M156 645h2M158 645h3M161 645h5M167 645h3M157 646h5M162 646h4M166 646h2M169 646h2M158 647h3M162 647h2M166 647h3M156 648h2M158 648h2M160 648h2M164 648h2M166 648h3M154 649h2M156 649h3M160 649h2M164 649h2M166 649h2M156 650h5M161 650h2M164 650h2M152 651h6M159 651h9M150 652h2M153 652h2M156 652h13M154 653h2M156 653h2M159 653h10M153 654h2M155 654h3M158 654h2M160 654h4M164 654h2M149 655h2M156 655h2M159 655h2M161 655h4M165 655h3M145 656h2M152 656h2M155 656h2M158 656h7M154 657h5M162 657h2M164 657h2M168 657h2M151 658h2M156 658h3M159 658h7M166 658h2M154 659h2M156 659h3M159 659h5M166 659h2M171 659h2M154 660h2M156 660h6M162 660h4M167 660h2M174 660h2M149 661h2M152 661h2M155 661h5M161 661h2M163 661h3M166 661h2M168 661h2M152 662h2M157 662h3M160 662h2M164 662h2M150 663h2M155 663h4M159 663h5M165 663h3M170 663h2M153 664h3M159 664h4M163 664h3M166 664h2M153 665h2M166 665h2M170 665h2M156 666h2M160 666h3M163 666h2M165 666h2M155 667h2M159 667h4M163 667h3M166 667h2M157 668h3M160 668h2M164 668h2M153 669h2M163 669h3M130 670h2M157 670h2M162 670h2M155 671h2M162 672h2M124 673h2M172 673h2M155 675h2M162 675h2M163 680h2M118 687h2M104 689h2M113 689h2M115 689h2M104 690h2M114 690h2M112 691h2M123 691h2M129 691h2M102 692h2M107 692h2M119 692h2M94 693h2M104 693h2M100 694h2M103 694h2M105 694h2M111 694h2M114 694h2M118 694h3M92 695h2M97 695h2M99 695h2M105 695h2M109 695h3M115 695h3M103 696h2M109 696h2M113 696h2M117 696h2M100 697h2M104 697h2M108 697h2M117 697h2M119 697h2M121 697h2M97 698h2M99 698h2M101 698h3M107 698h3M113 698h3M118 698h2M100 699h2M104 699h2M107 699h2M114 699h2M116 699h3M95 700h3M104 700h2M108 700h3M111 700h3M116 700h2M119 700h2M127 700h2M94 701h2M101 701h2M104 701h2M107 701h2M109 701h2M113 701h2M115 701h2M118 701h2M122 701h2M126 701h2M95 702h2M101 702h2M109 702h3M116 702h2M123 702h2M101 703h2M109 703h2M111 703h3M114 703h2M116 703h2M118 703h2M123 703h2M128 703h2M91 704h2M96 704h2M99 704h2M102 704h5M107 704h9M117 704h2M119 704h2M88 705h2M97 705h3M100 705h2M102 705h3M105 705h8M113 705h3M117 705h2M119 705h2M88 706h2M95 706h2M99 706h4M104 706h6M110 706h5M118 706h3M122 706h3M88 707h2M95 707h2M97 707h2M101 707h3M104 707h2M106 707h2M108 707h8M116 707h4M123 707h2M96 708h2M100 708h2M106 708h6M112 708h5M118 708h2M95 709h2M97 709h3M102 709h15M118 709h3M121 709h2M91 710h3M94 710h2M97 710h3M100 710h2M103 710h14M94 711h2M96 711h10M106 711h7M113 711h3M117 711h3M121 711h2M96 712h4M100 712h2M102 712h7M109 712h7M116 712h3M120 712h3M88 713h2M97 713h3M103 713h3M107 713h3M110 713h4M114 713h2M117 713h2M119 713h3M93 714h2M97 714h3M100 714h2M102 714h8M110 714h2M112 714h2M114 714h3M119 714h2M121 714h2M125 714h2M93 715h2M95 715h4M99 715h5M105 715h5M110 715h5M115 715h4M120 715h2M124 715h2M98 716h2M102 716h3M105 716h6M111 716h6M119 716h5M97 717h2M99 717h2M101 717h3M104 717h12M117 717h2M122 717h2M92 718h2M95 718h2M97 718h4M101 718h4M105 718h11M116 718h2M118 718h3M121 718h2M124 718h2M126 718h2M92 719h2M98 719h2M100 719h3M104 719h10M114 719h2M116 719h2M119 719h4M95 720h2M97 720h4M102 720h7M109 720h8M119 720h2M124 720h2M129 720h2M93 721h2M96 721h3M99 721h22M96 722h2M98 722h3M101 722h3M104 722h4M108 722h5M113 722h3M116 722h4M120 722h3M96 723h2M98 723h2M103 723h4M107 723h4M111 723h5M117 723h2M120 723h4M95 724h2M100 724h3M104 724h4M108 724h3M111 724h4M115 724h4M120 724h2M122 724h2M93 725h2M96 725h6M103 725h8M112 725h4M116 725h2M118 725h2M120 725h4M97 726h2M99 726h7M106 726h7M114 726h3M118 726h3M90 727h2M96 727h2M100 727h5M105 727h6M112 727h2M114 727h4M118 727h3M103 728h8M111 728h5M118 728h2M122 728h2M126 728h2M93 729h2M97 729h2M99 729h4M103 729h3M107 729h2M109 729h4M115 729h3M118 729h2M121 729h2M101 730h3M105 730h5M110 730h2M113 730h6M119 730h2M121 730h2M125 730h2M99 731h5M104 731h5M109 731h2M111 731h3M116 731h2M120 731h2M88 732h2M97 732h2M100 732h2M103 732h2M105 732h2M108 732h4M112 732h2M117 732h3M88 733h2M97 733h3M101 733h2M103 733h2M106 733h2M109 733h2M111 733h5M119 733h2M99 734h2M103 734h9M113 734h4M88 735h2M93 735h2M98 735h3M101 735h2M105 735h4M110 735h2M112 735h5M95 736h3M100 736h3M104 736h4M111 736h2M113 736h2M117 736h2M121 736h2M106 737h2M108 737h3M111 737h2M115 737h2M97 738h2M104 738h3M109 738h3M114 738h2M121 738h2M105 739h3M108 739h3M115 739h2M119 739h2M101 740h3M106 740h3M120 740h2M95 741h2M104 741h2M107 741h2M110 741h2M116 741h2M99 742h2M105 742h2M107 742h2M113 742h2M116 742h2M99 743h2M105 743h3M111 743h3M114 743h2M102 744h2M106 744h2M110 744h2M102 745h2M107 745h2M116 746h2M96 747h2M98 747h2M100 747h3M104 747h3M107 747h3M110 747h6M116 747h3M119 747h2" stroke="#000" stroke-opacity="0.88" stroke-width="2" fill="none"/>
<text class="s" x="26.4" y="318.0" font-size="11.5" text-anchor="start" fill="#111">10<tspan font-size="8.5" dy="-4">4</tspan></text>
<text class="s" x="26.4" y="376.1" font-size="11.5" text-anchor="start" fill="#111">10<tspan font-size="8.5" dy="-4">0</tspan></text>
<text class="s" x="38.0" y="385.8" font-size="11.5" text-anchor="start" fill="#111">10<tspan font-size="8.5" dy="-4">0</tspan></text>
<text class="s" x="116.60000000000001" y="386.0" font-size="11.5" text-anchor="start" fill="#111">10<tspan font-size="8.5" dy="-4">4</tspan></text>
<rect x="154.6" y="313" width="80.80000000000001" height="62" fill="#fff" stroke="#777" stroke-width="1"/>
<line x1="180" y1="313" x2="180" y2="375" stroke="#666" stroke-width="0.8"/>
<line x1="154.6" y1="342.6" x2="235.4" y2="342.6" stroke="#666" stroke-width="0.8"/>
<path transform="scale(.5)" d="M390 629h2M407 629h3M349 631h2M388 631h2M403 631h2M409 631h2M412 631h2M415 631h2M420 631h2M394 632h2M396 632h2M402 632h2M406 632h2M409 632h2M415 632h2M419 632h2M425 632h2M380 633h2M391 633h2M393 633h2M401 633h2M405 633h2M412 633h2M425 633h2M398 634h2M400 634h2M403 634h2M405 634h2M418 634h2M421 634h2M396 635h3M399 635h2M402 635h2M411 635h3M432 635h2M387 636h2M393 636h2M397 636h2M399 636h2M402 636h2M404 636h2M407 636h3M411 636h2M393 637h2M396 637h2M399 637h2M405 637h2M407 637h2M409 637h4M418 637h2M385 638h2M398 638h4M402 638h2M407 638h2M409 638h4M413 638h2M415 638h2M438 638h2M386 639h2M392 639h2M394 639h2M396 639h4M406 639h4M410 639h2M413 639h2M415 639h2M381 640h2M397 640h2M400 640h2M402 640h3M406 640h2M409 640h2M416 640h2M383 641h2M386 641h2M388 641h2M393 641h3M399 641h2M402 641h2M365 642h2M377 642h2M401 642h3M407 642h2M410 642h2M383 643h2M387 643h2M396 643h3M406 643h2M376 644h2M400 644h3M404 644h3M408 644h2M420 644h2M393 645h2M395 645h2M402 645h2M405 645h2M356 646h3M369 646h2M400 646h2M409 646h2M400 647h2M403 647h2M345 648h2M363 648h2M375 648h2M405 648h2M365 649h2M369 649h3M387 649h2M390 649h2M393 649h2M397 649h2M343 650h2M369 650h2M362 651h2M395 651h2M403 651h2M403 652h2M365 654h2M369 654h2M334 655h2M336 655h2M344 655h2M356 655h4M361 655h2M364 655h2M393 655h2M358 656h2M361 656h2M364 656h2M394 656h2M345 657h2M357 657h2M376 657h2M353 658h2M362 658h2M370 658h2M352 659h2M356 659h2M370 659h2M408 659h2M342 660h2M344 660h2M362 660h2M364 660h2M383 660h2M351 661h2M354 661h2M356 661h2M362 661h2M364 661h2M344 662h2M348 662h2M350 662h3M356 662h2M360 662h2M367 662h3M372 662h2M377 662h2M339 663h2M349 663h4M356 663h2M366 663h2M373 663h2M375 663h2M344 664h2M348 664h2M350 664h2M356 664h2M359 664h2M363 664h2M332 665h2M342 665h2M360 665h3M364 665h2M366 665h2M368 665h2M372 665h2M375 665h2M378 665h2M382 665h2M332 666h2M350 666h2M353 666h2M356 666h3M361 666h4M365 666h2M369 666h2M371 666h2M373 666h2M382 666h2M384 666h2M337 667h2M347 667h2M353 667h3M356 667h3M359 667h3M362 667h3M365 667h3M373 667h2M351 668h2M353 668h2M355 668h2M359 668h3M362 668h2M380 668h2M334 669h2M344 669h2M347 669h2M351 669h6M358 669h3M361 669h2M363 669h2M365 669h2M369 669h2M372 669h2M374 669h2M332 670h2M338 670h2M340 670h2M346 670h2M348 670h3M353 670h2M355 670h2M360 670h3M372 670h3M379 670h2M391 670h2M343 671h2M345 671h4M350 671h2M352 671h2M355 671h2M364 671h2M374 671h2M379 671h2M331 672h2M343 672h2M345 672h2M347 672h2M349 672h2M351 672h2M360 672h3M365 672h3M374 672h2M378 672h2M337 673h2M340 673h2M346 673h2M349 673h4M355 673h3M359 673h4M363 673h2M366 673h3M372 673h2M376 673h2M340 674h2M343 674h2M345 674h2M348 674h2M351 674h2M355 674h3M359 674h3M363 674h2M367 674h2M343 675h2M348 675h2M353 675h2M355 675h3M359 675h2M362 675h2M375 675h2M340 676h2M347 676h2M349 676h3M353 676h2M355 676h2M360 676h3M363 676h2M366 676h2M368 676h2M375 676h3M381 676h2M388 676h2M337 677h2M345 677h2M350 677h3M355 677h3M358 677h2M365 677h2M373 677h3M378 677h2M328 678h2M335 678h2M350 678h2M356 678h2M358 678h2M364 678h2M372 678h2M332 679h2M338 679h2M344 679h2M353 679h2M356 679h3M359 679h2M363 679h2M366 679h2M332 680h4M341 680h2M348 680h2M350 680h2M358 680h2M364 680h2M368 680h2M372 680h2M376 680h2M381 680h2M385 680h2M327 681h2M344 681h5M356 681h2M366 681h2M371 681h2M466 681h2M323 682h2M328 682h2M335 682h2M346 682h2M351 682h3M356 682h3M362 682h2M375 682h2M378 682h2M321 683h2M325 683h2M334 683h3M339 683h2M341 683h2M349 683h3M354 683h2M356 683h2M359 683h2M363 683h2M369 683h2M376 683h2M378 683h2M387 683h2M325 684h2M327 684h2M333 684h2M338 684h2M341 684h2M347 684h2M350 684h2M353 684h2M356 684h3M359 684h2M362 684h2M364 684h2M383 684h2M386 684h2M331 685h2M336 685h3M343 685h2M345 685h2M348 685h2M355 685h4M361 685h2M373 685h2M376 685h2M324 686h2M339 686h3M342 686h5M354 686h3M358 686h2M360 686h3M376 686h3M322 687h2M332 687h2M338 687h2M342 687h2M347 687h2M349 687h4M355 687h2M366 687h2M372 687h2M375 687h2M377 687h2M311 688h2M324 688h2M333 688h2M336 688h2M344 688h2M355 688h2M358 688h2M370 688h2M374 688h2M379 688h3M382 688h2M327 689h2M336 689h2M338 689h2M344 689h2M347 689h2M350 689h2M352 689h3M358 689h2M373 689h2M381 689h2M321 690h2M338 690h2M340 690h2M344 690h2M348 690h2M351 690h2M354 690h3M360 690h3M365 690h2M371 690h2M380 690h2M465 690h2M321 691h2M333 691h3M339 691h2M341 691h2M345 691h2M348 691h3M351 691h2M378 691h2M380 691h2M325 692h2M342 692h4M346 692h2M350 692h3M365 692h2M378 692h2M380 692h2M341 693h2M353 693h2M359 693h2M363 693h2M318 694h2M320 694h2M324 694h3M333 694h2M338 694h2M348 694h2M369 694h2M379 694h2M386 694h2M334 695h2M340 695h2M351 695h2M353 695h2M357 695h2M361 695h2M370 695h3M331 696h2M339 696h2M343 696h2M345 696h2M348 696h2M353 696h2M357 696h2M359 696h3M367 696h2M379 696h2M316 697h2M318 697h2M340 697h2M344 697h2M352 697h2M354 697h2M368 697h2M370 697h2M375 697h2M427 697h2M329 698h2M338 698h3M345 698h2M351 698h5M358 698h2M363 698h2M317 699h2M326 699h2M343 699h2M350 699h2M354 699h3M373 699h2M388 699h2M315 700h2M319 700h2M325 700h2M348 700h2M355 700h2M370 700h2M372 700h2M383 700h2M323 701h2M330 701h2M340 701h2M352 701h2M354 701h2M375 701h2M380 701h3M321 702h2M337 702h2M353 702h2M314 703h2M321 703h2M371 703h2M374 703h2M376 703h2M383 703h2M343 704h3M358 704h2M317 705h2M342 705h2M346 705h2M349 705h2M351 705h2M355 705h2M371 705h3M377 705h2M321 706h2M348 706h2M351 706h2M359 706h2M383 706h2M350 707h2M358 707h2M369 707h2M382 707h2M318 708h2M323 708h2M330 708h2M314 709h2M330 709h2M353 709h2M362 709h2M373 709h2M321 710h2M343 710h2M348 710h2M352 710h2M312 711h2M329 711h2M353 711h2M356 711h2M386 711h2M310 712h2M321 712h2M325 712h2M311 714h2M332 714h2M338 714h2M367 714h2M328 715h2M310 716h2M318 716h2M324 716h2M327 716h2M363 716h2M310 717h2M346 717h2M314 718h2M316 718h2M350 718h2M352 718h2M358 718h2M317 719h2M321 719h2M346 719h3M320 720h2M322 720h2M351 720h3M356 720h2M310 721h3M323 721h2M329 721h2M324 722h2M345 723h2M330 724h2M349 724h2M334 725h3M452 725h2M310 726h2M338 726h2M369 726h2M310 727h2M325 727h2M334 727h2M351 727h2M322 729h2M331 729h2M357 729h2M388 729h2M316 730h2M353 730h2M342 731h2M347 731h2M325 732h2M331 732h2M345 732h2M371 732h2M319 733h2M331 733h2M342 733h2M344 733h2M332 734h2M330 735h2M326 736h2M337 736h2M318 737h2M321 737h2M324 737h2M326 738h2M346 738h2M322 739h2M336 740h2M339 740h3M331 741h2M314 742h2M316 742h2M324 742h2M338 742h2M388 742h2M320 744h2M337 744h2M325 746h2M333 746h2M310 747h2M323 747h2M310 748h2M316 748h2M318 748h2" stroke="#000" stroke-opacity="0.4" stroke-width="2" fill="none"/>
<path transform="scale(.5)" d="M411 632h2M391 634h2M404 634h2M377 635h2M387 635h2M390 635h2M383 636h2M388 636h2M391 636h3M398 636h2M405 636h3M383 637h2M386 637h3M389 637h2M394 637h3M397 637h2M374 638h2M380 638h3M384 638h2M390 638h5M375 639h2M377 639h2M382 639h2M384 639h3M387 639h3M395 639h2M404 639h3M372 640h2M376 640h2M380 640h2M383 640h3M387 640h2M389 640h2M394 640h4M404 640h2M371 641h2M375 641h2M379 641h5M385 641h2M389 641h3M395 641h2M401 641h2M404 641h2M375 642h3M378 642h2M380 642h2M386 642h2M388 642h3M391 642h3M394 642h2M400 642h2M364 643h2M376 643h2M379 643h3M385 643h2M388 643h4M394 643h3M398 643h2M367 644h2M373 644h2M377 644h3M380 644h3M385 644h3M397 644h4M403 644h2M375 645h4M379 645h3M385 645h2M388 645h2M392 645h2M394 645h2M398 645h3M401 645h2M368 646h2M370 646h2M372 646h2M376 646h3M381 646h2M385 646h2M389 646h3M393 646h3M396 646h2M399 646h2M358 647h2M368 647h2M370 647h2M372 647h2M378 647h2M384 647h3M391 647h5M362 648h2M369 648h3M372 648h3M378 648h3M390 648h4M396 648h2M371 649h2M375 649h2M382 649h2M388 649h3M395 649h2M368 650h2M379 650h2M388 650h2M390 650h2M400 650h2M364 651h2M369 651h2M382 651h2M386 651h2M391 651h3M397 651h2M364 652h2M372 652h3M387 652h2M389 652h3M394 652h2M365 653h2M368 653h2M372 653h4M377 653h3M380 653h2M389 653h2M391 653h2M395 653h3M368 654h2M371 654h2M376 654h2M378 654h2M382 654h3M386 654h2M371 655h2M378 655h2M386 655h2M389 655h3M392 655h2M363 656h2M366 656h2M373 656h2M384 656h2M389 656h3M393 656h2M363 657h2M367 657h2M378 657h2M384 657h2M387 657h2M364 658h2M367 658h2M374 658h3M380 658h2M382 658h2M388 658h2M365 659h2M367 659h3M373 659h2M375 659h4M380 659h2M384 659h4M389 659h2M369 660h2M374 660h3M378 660h2M380 660h2M371 661h2M374 661h2M376 661h2M378 661h2M363 662h2M366 662h2M378 662h4M383 662h2M359 663h2M378 663h2M352 664h2M366 664h2M382 664h2M362 665h2M370 665h2M374 665h2M384 665h2M388 665h2M374 666h2M378 666h2M388 666h2M339 667h2M358 667h2M384 667h2M354 668h2M361 668h2M371 668h2M324 669h2M327 669h2M346 669h2M375 669h2M321 670h2M356 670h2M359 670h2M364 670h2M381 670h2M320 671h2M330 671h2M342 671h2M351 671h2M359 671h2M353 672h2M381 672h2M323 673h2M371 673h2M377 673h2M344 674h2M346 674h2M333 675h3M336 675h2M344 675h2M351 675h2M367 675h2M371 675h2M325 676h2M339 676h2M348 676h2M358 676h2M328 677h2M334 677h2M340 677h2M348 677h2M353 677h2M362 677h2M326 678h2M340 678h3M352 678h2M355 678h2M330 679h2M333 679h3M337 679h2M345 679h3M350 679h2M354 679h2M321 680h2M325 680h3M342 680h3M362 680h2M321 681h2M339 681h2M342 681h3M350 681h2M353 681h3M359 681h2M378 681h2M315 682h2M329 682h2M331 682h3M336 682h2M338 682h2M340 682h2M342 682h2M349 682h2M355 682h2M370 682h2M320 683h2M336 683h2M338 683h2M343 683h2M346 683h2M352 683h2M364 683h2M318 684h2M335 684h2M343 684h2M345 684h2M348 684h3M354 684h2M363 684h2M313 685h2M323 685h2M333 685h4M340 685h2M342 685h2M352 685h4M364 685h2M377 685h2M318 686h2M326 686h2M332 686h3M336 686h4M341 686h2M347 686h3M350 686h2M353 686h2M324 687h2M330 687h2M333 687h2M337 687h2M340 687h3M344 687h2M346 687h2M316 688h2M329 688h3M337 688h2M342 688h2M347 688h3M360 688h2M318 689h2M321 689h2M325 689h2M331 689h2M335 689h2M337 689h2M339 689h2M346 689h2M354 689h2M356 689h2M320 690h2M325 690h3M328 690h2M332 690h2M334 690h2M337 690h2M347 690h2M349 690h3M353 690h2M359 690h2M364 690h2M316 691h2M326 691h7M335 691h4M344 691h2M346 691h2M350 691h2M354 691h2M311 692h2M322 692h2M326 692h3M329 692h2M336 692h2M345 692h2M355 692h2M319 693h3M330 693h2M333 693h2M335 693h2M337 693h3M346 693h2M348 693h2M350 693h3M358 693h2M310 694h2M322 694h2M328 694h2M334 694h4M339 694h2M342 694h4M346 694h2M350 694h2M353 694h2M320 695h3M323 695h3M326 695h2M328 695h2M330 695h2M332 695h2M335 695h3M341 695h2M345 695h2M347 695h3M355 695h2M325 696h2M327 696h2M329 696h2M337 696h3M341 696h2M344 696h2M346 696h3M351 696h2M356 696h2M317 697h2M320 697h2M335 697h3M342 697h3M346 697h4M351 697h2M356 697h2M310 698h2M321 698h5M327 698h3M331 698h3M336 698h2M340 698h3M343 698h3M346 698h2M350 698h2M355 698h2M357 698h2M321 699h3M325 699h2M328 699h3M331 699h3M334 699h2M337 699h2M344 699h2M346 699h2M353 699h2M376 699h2M314 700h2M324 700h2M326 700h2M328 700h2M332 700h2M335 700h2M337 700h2M341 700h2M344 700h2M349 700h3M352 700h2M364 700h2M315 701h2M319 701h2M324 701h2M326 701h2M328 701h3M332 701h2M336 701h2M338 701h2M347 701h3M355 701h2M314 702h2M317 702h4M323 702h2M325 702h5M335 702h3M338 702h3M342 702h2M344 702h2M346 702h3M351 702h3M315 703h2M320 703h2M324 703h2M339 703h2M346 703h2M348 703h3M355 703h2M313 704h2M315 704h2M321 704h2M334 704h4M339 704h2M342 704h2M346 704h2M349 704h2M351 704h2M310 705h2M319 705h2M324 705h4M331 705h2M338 705h3M341 705h2M347 705h2M352 705h2M360 705h2M310 706h2M318 706h3M322 706h2M327 706h4M337 706h2M339 706h3M342 706h2M346 706h2M349 706h2M352 706h2M310 707h2M316 707h2M320 707h2M328 707h2M332 707h2M347 707h3M352 707h2M316 708h2M319 708h2M321 708h3M328 708h2M347 708h2M353 708h2M310 709h2M312 709h2M320 709h3M326 709h2M329 709h2M337 709h2M342 709h2M349 709h3M354 709h2M356 709h3M310 710h2M317 710h3M322 710h2M326 710h2M328 710h2M334 710h3M338 710h2M344 710h2M347 710h2M349 710h4M310 711h2M316 711h3M319 711h3M324 711h2M333 711h2M339 711h2M345 711h3M314 712h2M316 712h3M320 712h2M322 712h3M330 712h2M336 712h2M342 712h2M346 712h4M315 713h2M317 713h2M320 713h4M324 713h2M327 713h2M335 713h2M338 713h3M345 713h2M348 713h3M352 713h2M354 713h2M357 713h3M316 714h3M319 714h2M322 714h3M325 714h2M329 714h2M331 714h2M337 714h2M339 714h2M343 714h3M350 714h2M354 714h2M361 714h2M318 715h2M321 715h2M325 715h2M327 715h2M330 715h3M334 715h2M337 715h2M339 715h2M342 715h2M344 715h2M349 715h2M351 715h2M355 715h4M317 716h2M319 716h2M321 716h2M323 716h2M326 716h2M330 716h2M332 716h3M335 716h2M338 716h2M343 716h2M345 716h2M348 716h2M353 716h2M360 716h2M314 717h3M317 717h2M322 717h2M324 717h2M327 717h2M334 717h3M337 717h2M339 717h2M343 717h2M351 717h2M364 717h2M321 718h2M323 718h2M325 718h3M334 718h2M341 718h2M343 718h3M347 718h2M319 719h3M325 719h4M329 719h2M335 719h2M339 719h2M343 719h3M348 719h2M355 719h2M316 720h2M323 720h2M328 720h3M341 720h2M345 720h2M347 720h3M350 720h2M353 720h2M321 721h3M324 721h3M327 721h2M330 721h3M333 721h2M338 721h2M340 721h2M342 721h2M344 721h3M347 721h5M353 721h3M356 721h2M310 722h2M314 722h2M321 722h2M329 722h4M339 722h2M343 722h2M345 722h2M347 722h2M349 722h2M355 722h2M315 723h2M318 723h3M321 723h4M327 723h2M332 723h2M337 723h3M341 723h2M344 723h2M347 723h2M351 723h2M353 723h2M355 723h2M313 724h2M316 724h2M321 724h2M324 724h6M335 724h2M339 724h2M342 724h2M344 724h3M348 724h2M351 724h2M313 725h3M322 725h2M324 725h3M332 725h3M336 725h2M342 725h2M348 725h3M351 725h2M353 725h2M315 726h2M317 726h2M319 726h2M324 726h3M331 726h3M340 726h4M344 726h2M349 726h2M352 726h2M357 726h2M364 726h2M315 727h2M341 727h7M348 727h2M352 727h2M354 727h2M359 727h2M315 728h2M317 728h4M321 728h2M323 728h2M325 728h3M328 728h2M335 728h3M346 728h4M355 728h2M317 729h4M324 729h2M330 729h2M340 729h3M343 729h8M314 730h3M317 730h2M319 730h2M328 730h3M331 730h3M336 730h3M340 730h2M343 730h3M346 730h2M349 730h2M354 730h2M316 731h4M320 731h2M323 731h3M328 731h3M334 731h3M337 731h2M340 731h2M343 731h3M352 731h2M355 731h2M310 732h2M314 732h2M316 732h2M320 732h2M330 732h2M334 732h3M339 732h2M342 732h3M346 732h3M356 732h2M318 733h2M320 733h2M322 733h3M326 733h4M330 733h2M334 733h2M339 733h2M345 733h2M348 733h3M351 733h2M354 733h2M360 733h2M315 734h2M322 734h2M324 734h2M328 734h2M335 734h2M338 734h2M341 734h2M344 734h2M346 734h3M352 734h3M312 735h2M319 735h2M324 735h2M326 735h3M329 735h2M332 735h2M338 735h3M342 735h2M344 735h4M350 735h3M355 735h3M311 736h2M316 736h2M319 736h2M321 736h2M324 736h2M328 736h2M330 736h2M335 736h3M338 736h2M340 736h2M343 736h2M347 736h2M351 736h3M310 737h3M322 737h2M326 737h2M337 737h2M339 737h3M343 737h3M346 737h2M310 738h2M316 738h4M324 738h2M329 738h2M331 738h2M337 738h6M345 738h2M349 738h2M353 738h2M320 739h2M329 739h2M331 739h4M339 739h4M343 739h2M345 739h3M318 740h2M320 740h2M323 740h2M325 740h2M327 740h3M335 740h2M338 740h2M342 740h2M347 740h2M350 740h2M318 741h2M322 741h3M325 741h2M328 741h2M334 741h2M336 741h2M346 741h2M348 741h2M350 741h2M310 742h2M312 742h2M318 742h2M322 742h3M327 742h2M329 742h3M334 742h2M342 742h4M350 742h2M352 742h2M358 742h2M320 743h2M326 743h2M332 743h2M334 743h3M337 743h3M342 743h2M353 743h2M319 744h2M322 744h2M328 744h2M331 744h2M342 744h2M347 744h2M349 744h2M319 745h2M334 745h3M337 745h3M310 746h2M324 746h2M337 746h2M345 746h4M351 746h2M321 747h2M325 747h2M329 747h2M335 747h2M339 747h2M344 747h2M319 748h3M323 748h2M330 748h2M332 748h3M335 748h3M347 748h4" stroke="#000" stroke-opacity="0.62" stroke-width="2" fill="none"/>
<path transform="scale(.5)" d="M410 632h2M386 638h2M388 638h2M390 639h2M377 640h3M391 640h2M398 640h2M376 641h2M384 641h2M392 641h2M374 642h2M379 642h2M383 642h4M390 642h2M395 642h3M398 642h2M381 643h2M384 643h2M386 643h2M391 643h2M375 644h2M379 644h2M382 644h4M387 644h5M394 644h3M378 645h2M381 645h3M384 645h2M386 645h3M389 645h4M374 646h2M379 646h3M382 646h4M386 646h4M391 646h3M395 646h2M371 647h2M373 647h4M377 647h2M379 647h6M386 647h6M395 647h3M371 648h2M377 648h2M380 648h3M383 648h8M393 648h2M395 648h2M373 649h2M377 649h6M383 649h5M391 649h3M371 650h2M374 650h6M380 650h5M385 650h4M391 650h2M393 650h4M365 651h2M371 651h2M374 651h4M378 651h5M384 651h3M387 651h5M393 651h2M367 652h2M376 652h12M388 652h2M391 652h3M395 652h2M375 653h3M379 653h2M381 653h9M370 654h2M374 654h3M377 654h2M379 654h4M384 654h3M387 654h2M389 654h2M368 655h3M372 655h7M379 655h8M387 655h2M376 656h2M379 656h2M381 656h3M385 656h2M388 656h2M379 657h2M381 657h4M385 657h3M390 657h2M376 658h3M381 658h2M387 658h2M389 658h2M379 659h2M382 659h3M372 660h2M377 660h2M379 660h2M385 660h2M370 661h2M377 661h2M379 661h2M381 663h2M376 664h2M356 668h2M353 673h2M335 676h2M333 678h2M349 679h2M352 680h2M333 682h2M340 683h2M347 683h2M326 684h2M328 684h2M336 684h2M326 685h2M334 686h2M319 687h2M322 688h2M327 688h3M331 688h3M338 688h3M343 688h2M322 689h3M329 689h2M340 689h2M343 689h2M336 690h2M339 690h2M345 690h3M352 690h2M332 691h2M338 691h2M335 692h2M337 692h2M339 692h3M328 693h3M331 693h2M339 693h3M344 693h2M347 693h2M337 694h2M341 694h2M347 694h2M316 695h2M325 695h2M327 695h2M329 695h2M331 695h2M333 695h2M337 695h4M343 695h2M350 695h2M320 696h2M324 696h2M334 696h2M336 696h2M342 696h2M349 696h2M321 697h2M324 697h2M327 697h3M331 697h3M338 697h2M350 697h2M325 698h3M330 698h2M333 698h2M335 698h2M337 698h2M342 698h2M347 698h2M361 698h2M323 699h3M333 699h2M335 699h3M338 699h4M345 699h2M352 699h2M322 700h2M327 700h2M329 700h4M333 700h3M336 700h2M338 700h2M340 700h2M342 700h3M345 700h2M347 700h2M310 701h2M325 701h2M327 701h2M331 701h2M333 701h4M337 701h2M339 701h2M341 701h3M344 701h4M324 702h2M330 702h3M333 702h3M341 702h2M343 702h2M345 702h2M348 702h2M323 703h2M326 703h9M335 703h2M337 703h3M341 703h3M344 703h2M353 703h2M319 704h2M323 704h4M329 704h6M337 704h3M340 704h2M345 704h2M352 704h2M321 705h2M327 705h2M329 705h3M332 705h5M337 705h2M340 705h2M343 705h4M348 705h2M350 705h2M324 706h4M331 706h7M338 706h2M341 706h2M344 706h3M347 706h2M318 707h3M322 707h2M324 707h5M329 707h2M331 707h2M334 707h6M342 707h6M349 707h2M310 708h2M324 708h2M326 708h3M329 708h2M331 708h14M345 708h2M348 708h3M323 709h2M325 709h2M327 709h3M331 709h7M338 709h2M340 709h3M343 709h4M348 709h2M324 710h2M327 710h2M329 710h6M336 710h2M339 710h5M345 710h2M321 711h3M325 711h2M327 711h2M330 711h4M334 711h6M340 711h6M347 711h4M352 711h2M319 712h2M324 712h2M327 712h4M331 712h6M337 712h6M343 712h2M345 712h2M355 712h2M325 713h3M328 713h8M336 713h3M340 713h4M344 713h2M350 713h3M318 714h2M321 714h2M328 714h2M330 714h2M333 714h5M340 714h3M345 714h4M349 714h2M352 714h2M320 715h2M323 715h3M326 715h2M329 715h2M332 715h3M335 715h3M338 715h2M340 715h3M343 715h2M346 715h3M350 715h2M320 716h2M328 716h3M331 716h2M337 716h2M339 716h3M342 716h2M344 716h2M346 716h3M349 716h3M352 716h2M313 717h2M325 717h3M328 717h3M331 717h4M336 717h2M338 717h2M340 717h4M344 717h3M347 717h2M353 717h2M319 718h2M322 718h2M327 718h8M335 718h5M342 718h2M346 718h2M353 718h2M324 719h2M328 719h2M330 719h6M336 719h4M340 719h2M342 719h2M345 719h2M349 719h2M352 719h2M321 720h2M324 720h5M330 720h9M339 720h3M342 720h3M320 721h2M326 721h2M328 721h2M332 721h2M334 721h5M339 721h2M341 721h2M343 721h2M346 721h2M352 721h2M317 722h2M325 722h5M333 722h4M337 722h3M340 722h4M346 722h2M350 722h2M317 723h2M324 723h3M328 723h2M330 723h3M333 723h5M342 723h3M346 723h2M317 724h2M329 724h2M331 724h4M336 724h2M338 724h2M340 724h3M343 724h2M320 725h2M326 725h2M328 725h2M330 725h3M337 725h6M347 725h2M328 726h2M330 726h2M333 726h6M339 726h2M343 726h2M345 726h2M347 726h3M317 727h2M324 727h2M326 727h8M335 727h7M347 727h2M324 728h2M327 728h2M329 728h5M334 728h2M337 728h7M344 728h2M350 728h2M320 729h2M328 729h2M333 729h3M336 729h5M327 730h2M330 730h2M333 730h4M339 730h2M345 730h2M321 731h2M325 731h2M327 731h2M331 731h3M336 731h2M339 731h2M345 731h3M328 732h3M332 732h2M337 732h3M340 732h3M344 732h2M348 732h2M332 733h3M335 733h5M341 733h2M343 733h2M320 734h2M327 734h2M329 734h3M333 734h3M337 734h2M339 734h2M343 734h2M348 734h2M322 735h2M331 735h2M335 735h2M337 735h2M343 735h2M353 735h2M329 736h2M331 736h3M341 736h3M346 736h2M325 737h2M331 737h3M334 737h2M338 737h2M345 737h2M325 738h2M327 738h3M334 738h2M342 738h2M325 739h2M330 739h2M334 739h5M342 739h2M324 740h2M333 740h2M344 740h2M316 741h2M333 741h2M337 741h3M325 742h2M332 742h2M340 742h2M325 743h2M328 743h2M329 744h2M338 744h2M332 747h2M321 748h3M324 748h2M326 748h3M329 748h2M331 748h2M334 748h2M337 748h3M340 748h2M342 748h4M346 748h2" stroke="#000" stroke-opacity="0.88" stroke-width="2" fill="none"/>
<text class="s" x="137.0" y="318.0" font-size="11.5" text-anchor="start" fill="#111">10<tspan font-size="8.5" dy="-4">4</tspan></text>
<text class="s" x="137.0" y="376.5" font-size="11.5" text-anchor="start" fill="#111">10<tspan font-size="8.5" dy="-4">0</tspan></text>
<text class="s" x="148.5" y="386.2" font-size="11.5" text-anchor="start" fill="#111">10<tspan font-size="8.5" dy="-4">0</tspan></text>
<text class="s" x="227.8" y="386.4" font-size="11.5" text-anchor="start" fill="#111">10<tspan font-size="8.5" dy="-4">4</tspan></text>
<text class="s" x="0" y="0" font-size="18.6" text-anchor="start" transform="translate(19.4 361.5) rotate(-90) scale(0.835 1)" fill="#111">CD71</text>
<text class="s" x="62" y="396.5" font-size="15.6" text-anchor="start" fill="#111">Ter119</text>
<line x1="119" y1="393.5" x2="213" y2="393.5" stroke="#888" stroke-width="0.9"/>
<polygon points="210,389.9 217,393.5 210,397.1" fill="#111"/>
<text class="s" x="119" y="337" font-size="10.8" text-anchor="end" font-weight="bold" fill="#111">32±2</text>
<text class="s" x="231" y="337" font-size="10.8" text-anchor="end" font-weight="bold" fill="#111">34±3</text>
<text class="a" x="-0.4" y="436.5" font-size="17.5" text-anchor="start" font-weight="bold" fill="#000">B</text>
<text class="s" x="91.5" y="459" font-size="17.5" text-anchor="middle" fill="#111">Spleen</text>
<text class="s" x="188" y="459" font-size="17.5" text-anchor="middle" fill="#111">Bone marrow</text>
<polyline points="46.8,537 46.8,465.2 137.5,465.2 137.5,537" fill="none" stroke="#111" stroke-width="1.3"/>
<line x1="46.8" y1="537" x2="137.5" y2="537" stroke="#111" stroke-width="1.3"/>
<line x1="43.8" y1="537.0" x2="46.8" y2="537.0" stroke="#111" stroke-width="1"/>
<line x1="43.8" y1="528.55" x2="46.8" y2="528.55" stroke="#111" stroke-width="1"/>
<line x1="43.8" y1="520.1" x2="46.8" y2="520.1" stroke="#111" stroke-width="1"/>
<line x1="43.8" y1="511.65" x2="46.8" y2="511.65" stroke="#111" stroke-width="1"/>
<line x1="43.8" y1="503.2" x2="46.8" y2="503.2" stroke="#111" stroke-width="1"/>
<line x1="43.8" y1="494.75" x2="46.8" y2="494.75" stroke="#111" stroke-width="1"/>
<line x1="43.8" y1="486.3" x2="46.8" y2="486.3" stroke="#111" stroke-width="1"/>
<line x1="43.8" y1="477.85" x2="46.8" y2="477.85" stroke="#111" stroke-width="1"/>
<line x1="43.8" y1="469.4" x2="46.8" y2="469.4" stroke="#111" stroke-width="1"/>
<text class="s" x="41.5" y="541.8" font-size="14" text-anchor="end" fill="#111">0</text>
<text class="s" x="41.5" y="524.9" font-size="14" text-anchor="end" fill="#111">40</text>
<text class="s" x="41.5" y="508.0" font-size="14" text-anchor="end" fill="#111">80</text>
<text class="s" x="41.5" y="491.1" font-size="14" text-anchor="end" fill="#111">120</text>
<text class="s" x="41.5" y="474.2" font-size="14" text-anchor="end" fill="#111">160</text>
<line x1="69.2" y1="537" x2="69.2" y2="540" stroke="#111" stroke-width="1"/>
<line x1="91.2" y1="537" x2="91.2" y2="540" stroke="#111" stroke-width="1"/>
<line x1="113.8" y1="537" x2="113.8" y2="540" stroke="#111" stroke-width="1"/>
<line x1="137.5" y1="537" x2="137.5" y2="540" stroke="#111" stroke-width="1"/>
<line x1="57.55" y1="528.3" x2="57.55" y2="526.5" stroke="#111" stroke-width="1.1"/>
<line x1="54.8" y1="526.5" x2="60.3" y2="526.5" stroke="#111" stroke-width="1.1"/>
<rect x="49.40" y="528.90" width="16.30" height="8.10" fill="#fff" stroke="#111" stroke-width="1.25"/>
<line x1="80.55" y1="478.3" x2="80.55" y2="474.3" stroke="#111" stroke-width="1.1"/>
<line x1="77.8" y1="474.3" x2="83.3" y2="474.3" stroke="#111" stroke-width="1.1"/>
<rect x="71.80" y="478.30" width="17.50" height="58.70" fill="#151515" stroke="none" stroke-width="0"/>
<text class="s" x="80.55" y="475.5" font-size="14.5" text-anchor="middle" font-weight="bold" fill="#222">*</text>
<line x1="102.2" y1="535" x2="102.2" y2="533.8" stroke="#111" stroke-width="1.1"/>
<line x1="99.45" y1="533.8" x2="104.95" y2="533.8" stroke="#111" stroke-width="1.1"/>
<rect x="93.80" y="535.60" width="16.80" height="1.40" fill="#fff" stroke="#111" stroke-width="1.25"/>
<line x1="124.55" y1="529.5" x2="124.55" y2="527.5" stroke="#111" stroke-width="1.1"/>
<line x1="121.8" y1="527.5" x2="127.3" y2="527.5" stroke="#111" stroke-width="1.1"/>
<rect x="115.80" y="529.50" width="17.50" height="7.50" fill="#151515" stroke="none" stroke-width="0"/>
<text class="s" x="124.55" y="528.7" font-size="14.5" text-anchor="middle" font-weight="bold" fill="#222">*</text>
<polyline points="145.6,537 145.6,465.2 235.8,465.2 235.8,537" fill="none" stroke="#111" stroke-width="1.3"/>
<line x1="145.6" y1="537" x2="235.8" y2="537" stroke="#111" stroke-width="1.3"/>
<line x1="232.8" y1="537.0" x2="235.8" y2="537.0" stroke="#111" stroke-width="1"/>
<line x1="232.8" y1="528.45" x2="235.8" y2="528.45" stroke="#111" stroke-width="1"/>
<line x1="232.8" y1="519.9" x2="235.8" y2="519.9" stroke="#111" stroke-width="1"/>
<line x1="232.8" y1="511.35" x2="235.8" y2="511.35" stroke="#111" stroke-width="1"/>
<line x1="232.8" y1="502.8" x2="235.8" y2="502.8" stroke="#111" stroke-width="1"/>
<line x1="232.8" y1="494.25" x2="235.8" y2="494.25" stroke="#111" stroke-width="1"/>
<line x1="232.8" y1="485.7" x2="235.8" y2="485.7" stroke="#111" stroke-width="1"/>
<line x1="232.8" y1="477.15" x2="235.8" y2="477.15" stroke="#111" stroke-width="1"/>
<line x1="232.8" y1="468.6" x2="235.8" y2="468.6" stroke="#111" stroke-width="1"/>
<line x1="145.6" y1="537" x2="145.6" y2="540" stroke="#111" stroke-width="1"/>
<line x1="167.5" y1="537" x2="167.5" y2="540" stroke="#111" stroke-width="1"/>
<line x1="190" y1="537" x2="190" y2="540" stroke="#111" stroke-width="1"/>
<line x1="212" y1="537" x2="212" y2="540" stroke="#111" stroke-width="1"/>
<line x1="235.8" y1="537" x2="235.8" y2="540" stroke="#111" stroke-width="1"/>
<line x1="156.45" y1="522" x2="156.45" y2="519.5" stroke="#111" stroke-width="1.1"/>
<line x1="153.7" y1="519.5" x2="159.2" y2="519.5" stroke="#111" stroke-width="1.1"/>
<rect x="148.30" y="522.60" width="16.30" height="14.40" fill="#fff" stroke="#111" stroke-width="1.25"/>
<line x1="178.55" y1="510" x2="178.55" y2="506" stroke="#111" stroke-width="1.1"/>
<line x1="175.8" y1="506" x2="181.3" y2="506" stroke="#111" stroke-width="1.1"/>
<rect x="169.80" y="510.00" width="17.50" height="27.00" fill="#151515" stroke="none" stroke-width="0"/>
<text class="s" x="178.55" y="507.2" font-size="14.5" text-anchor="middle" font-weight="bold" fill="#222">*</text>
<line x1="200.95" y1="528" x2="200.95" y2="526.8" stroke="#111" stroke-width="1.1"/>
<line x1="198.2" y1="526.8" x2="203.7" y2="526.8" stroke="#111" stroke-width="1.1"/>
<rect x="192.80" y="528.60" width="16.30" height="8.40" fill="#fff" stroke="#111" stroke-width="1.25"/>
<line x1="223.3" y1="528.3" x2="223.3" y2="524.3" stroke="#111" stroke-width="1.1"/>
<line x1="220.55" y1="524.3" x2="226.05" y2="524.3" stroke="#111" stroke-width="1.1"/>
<rect x="214.30" y="528.30" width="18.00" height="8.70" fill="#151515" stroke="none" stroke-width="0"/>
<text class="s" x="62.2" y="543" font-size="16" text-anchor="end" transform="rotate(-90 62.2 543)" fill="#111">+/+</text>
<text class="s" x="109.8" y="543" font-size="16" text-anchor="end" transform="rotate(-90 109.8 543)" fill="#111">+/+</text>
<text class="s" x="161.7" y="543" font-size="16" text-anchor="end" transform="rotate(-90 161.7 543)" fill="#111">+/+</text>
<text class="s" x="207.4" y="543" font-size="16" text-anchor="end" transform="rotate(-90 207.4 543)" fill="#111">+/+</text>
<text class="s" x="84.4" y="543" font-size="14.2" text-anchor="end" transform="rotate(-90 84.4 543)" fill="#111">Lyn<tspan font-size="12" dy="-4">-/-</tspan></text>
<text class="s" x="129.6" y="543" font-size="14.2" text-anchor="end" transform="rotate(-90 129.6 543)" fill="#111">Lyn<tspan font-size="12" dy="-4">-/-</tspan></text>
<text class="s" x="182.6" y="543" font-size="14.2" text-anchor="end" transform="rotate(-90 182.6 543)" fill="#111">Lyn<tspan font-size="12" dy="-4">-/-</tspan></text>
<text class="s" x="228" y="543" font-size="14.2" text-anchor="end" transform="rotate(-90 228 543)" fill="#111">Lyn<tspan font-size="12" dy="-4">-/-</tspan></text>
<line x1="53.6" y1="581" x2="82.6" y2="581" stroke="#111" stroke-width="1.6"/>
<line x1="101.8" y1="581" x2="131.3" y2="581" stroke="#111" stroke-width="1.6"/>
<line x1="151.6" y1="581" x2="180.2" y2="581" stroke="#111" stroke-width="1.6"/>
<line x1="199.8" y1="581" x2="229.2" y2="581" stroke="#111" stroke-width="1.6"/>
<text class="s" x="66.3" y="598" font-size="13" text-anchor="middle" fill="#111">CFU-e</text>
<text class="s" x="115.3" y="598" font-size="13" text-anchor="middle" fill="#111">BFU-e</text>
<text class="s" x="164.4" y="598" font-size="13" text-anchor="middle" fill="#111">CFU-e</text>
<text class="s" x="213.5" y="598" font-size="13" text-anchor="middle" fill="#111">BFU-e</text>
<text class="s" x="15.3" y="555.5" font-size="15.3" text-anchor="start" transform="rotate(-90 15.3 555.5)" fill="#111">Colonies/10<tspan font-size="11" dy="-5.5">5</tspan><tspan dy="5.5"> cells</tspan></text>
<text class="s" x="252.3" y="564.5" font-size="13.3" text-anchor="start" transform="rotate(-90 252.3 564.5)" fill="#111">Colonies/2.5 x10<tspan font-size="9.5" dy="-4.5">4</tspan><tspan dy="4.5"> cells</tspan></text>
<text class="a" x="278.8" y="14.4" font-size="17.5" text-anchor="start" font-weight="bold" fill="#000">C</text>
<polyline points="357,30 357,26 364,26" fill="none" stroke="#222" stroke-width="1"/>
<text class="s" x="388.2" y="31.5" font-size="15" text-anchor="middle" fill="#111">Spleen</text>
<polyline points="412,26 421.3,26 421.3,30.5" fill="none" stroke="#222" stroke-width="1"/>
<polyline points="432.5,30.5 432.5,26 449,26" fill="none" stroke="#222" stroke-width="1"/>
<text class="s" x="465.3" y="32" font-size="15" text-anchor="middle" fill="#111">BM</text>
<polyline points="480.5,26 497.5,26 497.5,30.5" fill="none" stroke="#222" stroke-width="1"/>
<line x1="352.2" y1="38.2" x2="352.2" y2="154.3" stroke="#111" stroke-width="1.2"/>
<line x1="351.59999999999997" y1="154.3" x2="499.5" y2="154.3" stroke="#111" stroke-width="1.3"/>
<line x1="348.7" y1="154.3" x2="352.2" y2="154.3" stroke="#111" stroke-width="1"/>
<text class="s" x="346.0" y="159.20000000000002" font-size="14.7" text-anchor="end" fill="#111">0</text>
<line x1="348.7" y1="125.30000000000001" x2="352.2" y2="125.30000000000001" stroke="#111" stroke-width="1"/>
<text class="s" x="346.0" y="130.20000000000002" font-size="14.7" text-anchor="end" fill="#111">10</text>
<line x1="348.7" y1="96.30000000000001" x2="352.2" y2="96.30000000000001" stroke="#111" stroke-width="1"/>
<text class="s" x="346.0" y="101.20000000000002" font-size="14.7" text-anchor="end" fill="#111">20</text>
<line x1="348.7" y1="67.30000000000001" x2="352.2" y2="67.30000000000001" stroke="#111" stroke-width="1"/>
<text class="s" x="346.0" y="72.20000000000002" font-size="14.7" text-anchor="end" fill="#111">30</text>
<line x1="348.7" y1="38.30000000000001" x2="352.2" y2="38.30000000000001" stroke="#111" stroke-width="1"/>
<text class="s" x="346.0" y="43.20000000000001" font-size="14.7" text-anchor="end" fill="#111">40</text>
<line x1="387" y1="154.3" x2="387" y2="157.3" stroke="#111" stroke-width="1"/>
<line x1="465" y1="154.3" x2="465" y2="157.3" stroke="#111" stroke-width="1"/>
<line x1="499.3" y1="154.3" x2="499.3" y2="157.3" stroke="#111" stroke-width="1"/>
<line x1="368.6" y1="139" x2="368.6" y2="133.7" stroke="#111" stroke-width="1.1"/>
<line x1="366.35" y1="133.7" x2="370.85" y2="133.7" stroke="#111" stroke-width="1.1"/>
<rect x="356.20" y="139.60" width="24.80" height="14.70" fill="#fff" stroke="#111" stroke-width="1.25"/>
<line x1="401.95" y1="78.8" x2="401.95" y2="53.3" stroke="#111" stroke-width="1.1"/>
<line x1="399.7" y1="53.3" x2="404.2" y2="53.3" stroke="#111" stroke-width="1.1"/>
<rect x="388.70" y="78.80" width="26.50" height="75.50" fill="#151515" stroke="none" stroke-width="0"/>
<rect x="436.10" y="133.40" width="25.10" height="20.90" fill="#fff" stroke="#111" stroke-width="1.25"/>
<line x1="482.3" y1="135.8" x2="482.3" y2="133.3" stroke="#111" stroke-width="1.1"/>
<line x1="480.05" y1="133.3" x2="484.55" y2="133.3" stroke="#111" stroke-width="1.1"/>
<rect x="468.80" y="135.80" width="27.00" height="18.50" fill="#151515" stroke="none" stroke-width="0"/>
<text class="s" x="372.5" y="162" font-size="15" text-anchor="end" transform="rotate(-90 372.5 162)" fill="#111">+/+</text>
<text class="s" x="454" y="162" font-size="15" text-anchor="end" transform="rotate(-90 454 162)" fill="#111">+/+</text>
<text class="s" x="408.3" y="160.5" font-size="14.5" text-anchor="end" transform="rotate(-90 408.3 160.5)" fill="#111">Lyn<tspan font-size="12" dy="-4">-/-</tspan></text>
<text class="s" x="488.3" y="160.5" font-size="14.5" text-anchor="end" transform="rotate(-90 488.3 160.5)" fill="#111">Lyn<tspan font-size="12" dy="-4">-/-</tspan></text>
<text class="s" x="302.6" y="146.5" font-size="14.8" text-anchor="start" transform="rotate(-90 302.6 146.5)" fill="#111">CD71/Ter119pos</text>
<text class="s" x="320" y="154.3" font-size="15.3" text-anchor="start" transform="rotate(-90 320 154.3)" fill="#111">cells/spleen (x 10<tspan font-size="10.5" dy="-5">6</tspan><tspan dy="5">)</tspan></text>
<text class="a" x="278.7" y="227.5" font-size="17.5" text-anchor="start" font-weight="bold" fill="#000">D</text>
<polyline points="322.5,343.2 322.5,247.7 514.6,247.7 514.6,343.2" fill="none" stroke="#111" stroke-width="1.3"/>
<line x1="322.0" y1="343.2" x2="515.1" y2="343.2" stroke="#111" stroke-width="1.3"/>
<line x1="319.5" y1="343.2" x2="322.5" y2="343.2" stroke="#111" stroke-width="1"/>
<text class="s" x="317.5" y="348.09999999999997" font-size="14" text-anchor="end" fill="#111">0</text>
<line x1="319.5" y1="327.4" x2="322.5" y2="327.4" stroke="#111" stroke-width="1"/>
<text class="s" x="317.5" y="332.04999999999995" font-size="14" text-anchor="end" fill="#111">2</text>
<line x1="319.5" y1="311.59999999999997" x2="322.5" y2="311.59999999999997" stroke="#111" stroke-width="1"/>
<text class="s" x="317.5" y="315.99999999999994" font-size="14" text-anchor="end" fill="#111">4</text>
<line x1="319.5" y1="295.79999999999995" x2="322.5" y2="295.79999999999995" stroke="#111" stroke-width="1"/>
<text class="s" x="317.5" y="299.94999999999993" font-size="14" text-anchor="end" fill="#111">6</text>
<line x1="319.5" y1="280.0" x2="322.5" y2="280.0" stroke="#111" stroke-width="1"/>
<text class="s" x="317.5" y="283.9" font-size="14" text-anchor="end" fill="#111">8</text>
<line x1="319.5" y1="264.2" x2="322.5" y2="264.2" stroke="#111" stroke-width="1"/>
<text class="s" x="317.5" y="267.84999999999997" font-size="14" text-anchor="end" fill="#111">10</text>
<line x1="319.5" y1="248.39999999999998" x2="322.5" y2="248.39999999999998" stroke="#111" stroke-width="1"/>
<text class="s" x="317.5" y="251.79999999999998" font-size="14" text-anchor="end" fill="#111">12</text>
<line x1="322.5" y1="343.2" x2="322.5" y2="346.2" stroke="#111" stroke-width="1"/>
<line x1="342.8" y1="343.2" x2="342.8" y2="346.2" stroke="#111" stroke-width="1"/>
<line x1="362" y1="343.2" x2="362" y2="346.2" stroke="#111" stroke-width="1"/>
<line x1="381.2" y1="343.2" x2="381.2" y2="346.2" stroke="#111" stroke-width="1"/>
<line x1="400" y1="343.2" x2="400" y2="346.2" stroke="#111" stroke-width="1"/>
<line x1="420.5" y1="343.2" x2="420.5" y2="346.2" stroke="#111" stroke-width="1"/>
<line x1="440" y1="343.2" x2="440" y2="346.2" stroke="#111" stroke-width="1"/>
<line x1="459.3" y1="343.2" x2="459.3" y2="346.2" stroke="#111" stroke-width="1"/>
<line x1="478.6" y1="343.2" x2="478.6" y2="346.2" stroke="#111" stroke-width="1"/>
<line x1="497.3" y1="343.2" x2="497.3" y2="346.2" stroke="#111" stroke-width="1"/>
<line x1="514.6" y1="343.2" x2="514.6" y2="346.2" stroke="#111" stroke-width="1"/>
<line x1="351.6" y1="341.2" x2="351.6" y2="340.3" stroke="#111" stroke-width="1.1"/>
<line x1="348.85" y1="340.3" x2="354.35" y2="340.3" stroke="#111" stroke-width="1.1"/>
<rect x="344.60" y="341.80" width="14.00" height="1.40" fill="#fff" stroke="#111" stroke-width="1.25"/>
<line x1="370.8" y1="342.3" x2="370.8" y2="341.6" stroke="#111" stroke-width="1.1"/>
<line x1="368.05" y1="341.6" x2="373.55" y2="341.6" stroke="#111" stroke-width="1.1"/>
<rect x="363.80" y="342.90" width="14.00" height="0.50" fill="#fff" stroke="#111" stroke-width="1.25"/>
<line x1="390.1" y1="338.5" x2="390.1" y2="336.3" stroke="#111" stroke-width="1.1"/>
<line x1="387.35" y1="336.3" x2="392.85" y2="336.3" stroke="#111" stroke-width="1.1"/>
<rect x="383.10" y="339.10" width="14.00" height="4.10" fill="#fff" stroke="#111" stroke-width="1.25"/>
<line x1="409.90000000000003" y1="342" x2="409.90000000000003" y2="341.2" stroke="#111" stroke-width="1.1"/>
<line x1="407.15000000000003" y1="341.2" x2="412.65000000000003" y2="341.2" stroke="#111" stroke-width="1.1"/>
<rect x="402.90" y="342.60" width="14.00" height="0.60" fill="#fff" stroke="#111" stroke-width="1.25"/>
<line x1="448.8" y1="284.5" x2="448.8" y2="275" stroke="#111" stroke-width="1.1"/>
<line x1="446.05" y1="275" x2="451.55" y2="275" stroke="#111" stroke-width="1.1"/>
<rect x="441.20" y="284.50" width="15.20" height="58.70" fill="#151515" stroke="none" stroke-width="0"/>
<text class="s" x="448.8" y="276.2" font-size="14.5" text-anchor="middle" font-weight="bold" fill="#222">*</text>
<line x1="468.1" y1="302.5" x2="468.1" y2="295.5" stroke="#111" stroke-width="1.1"/>
<line x1="465.35" y1="295.5" x2="470.85" y2="295.5" stroke="#111" stroke-width="1.1"/>
<rect x="460.50" y="302.50" width="15.20" height="40.70" fill="#151515" stroke="none" stroke-width="0"/>
<text class="s" x="468.1" y="296.7" font-size="14.5" text-anchor="middle" font-weight="bold" fill="#222">*</text>
<line x1="487.5" y1="265" x2="487.5" y2="255.5" stroke="#111" stroke-width="1.1"/>
<line x1="484.75" y1="255.5" x2="490.25" y2="255.5" stroke="#111" stroke-width="1.1"/>
<rect x="479.90" y="265.00" width="15.20" height="78.20" fill="#151515" stroke="none" stroke-width="0"/>
<text class="s" x="487.5" y="256.7" font-size="14.5" text-anchor="middle" font-weight="bold" fill="#222">*</text>
<line x1="506.8" y1="305" x2="506.8" y2="299.5" stroke="#111" stroke-width="1.1"/>
<line x1="504.05" y1="299.5" x2="509.55" y2="299.5" stroke="#111" stroke-width="1.1"/>
<rect x="499.20" y="305.00" width="15.20" height="38.20" fill="#151515" stroke="none" stroke-width="0"/>
<text class="s" x="506.8" y="300.7" font-size="14.5" text-anchor="middle" font-weight="bold" fill="#222">*</text>
<text class="s" x="334.90500000000003" y="348.8" font-size="14.2" text-anchor="end" transform="rotate(-90 334.90500000000003 348.8)" fill="#111">saline</text>
<text class="s" x="354.665" y="348.8" font-size="14.2" text-anchor="end" transform="rotate(-90 354.665 348.8)" fill="#111">M-CSF</text>
<text class="s" x="373.92499999999995" y="348.8" font-size="14.2" text-anchor="end" transform="rotate(-90 373.92499999999995 348.8)" fill="#111">GM-CSF</text>
<text class="s" x="394.435" y="348.8" font-size="14.2" text-anchor="end" transform="rotate(-90 394.435 348.8)" fill="#111">IL-3</text>
<text class="s" x="414.645" y="348.8" font-size="14.2" text-anchor="end" transform="rotate(-90 414.645 348.8)" fill="#111">SCF</text>
<text class="s" x="432.255" y="348.8" font-size="14.2" text-anchor="end" transform="rotate(-90 432.255 348.8)" fill="#111">saline</text>
<text class="s" x="452.265" y="348.8" font-size="14.2" text-anchor="end" transform="rotate(-90 452.265 348.8)" fill="#111">M-CSF</text>
<text class="s" x="471.475" y="348.8" font-size="14.2" text-anchor="end" transform="rotate(-90 471.475 348.8)" fill="#111">GM-CSF</text>
<text class="s" x="491.585" y="348.8" font-size="14.2" text-anchor="end" transform="rotate(-90 491.585 348.8)" fill="#111">IL-3</text>
<text class="s" x="510.795" y="348.8" font-size="14.2" text-anchor="end" transform="rotate(-90 510.795 348.8)" fill="#111">SCF</text>
<rect x="328.00" y="255.20" width="17.00" height="8.00" fill="#fff" stroke="#111" stroke-width="1.1"/>
<rect x="328.00" y="269.50" width="17.00" height="8.00" fill="#151515" stroke="#111" stroke-width="1.1"/>
<text class="s" x="348.3" y="264.8" font-size="14.7" text-anchor="start" fill="#111">Lyn<tspan font-size="15" dy="-3.6">+/+</tspan></text>
<text class="s" x="348.3" y="279.1" font-size="14.7" text-anchor="start" fill="#111">Lyn<tspan font-size="15" dy="-3.6">-/-</tspan></text>
<text class="s" x="298.8" y="350.5" font-size="15.3" text-anchor="start" transform="rotate(-90 298.8 350.5)" fill="#111">Colonies/10<tspan font-size="11" dy="-5.5">5</tspan><tspan dy="5.5"> cells</tspan></text>
<polyline points="325.6,413 325.6,417.5 390.5,417.5" fill="none" stroke="#222" stroke-width="1"/>
<text class="s" x="420" y="420.3" font-size="17.5" text-anchor="middle" fill="#111">Spleen</text>
<polyline points="450,417.5 515,417.5 515,413" fill="none" stroke="#222" stroke-width="1"/>
<polyline points="322.5,538.5 322.5,442 512.6,442 512.6,538.5" fill="none" stroke="#111" stroke-width="1.3"/>
<line x1="322.0" y1="538.5" x2="513.1" y2="538.5" stroke="#111" stroke-width="1.3"/>
<line x1="319.5" y1="538.5" x2="322.5" y2="538.5" stroke="#111" stroke-width="1"/>
<text class="s" x="317.2" y="543.3" font-size="14" text-anchor="end" fill="#111">0</text>
<line x1="319.5" y1="526.42" x2="322.5" y2="526.42" stroke="#111" stroke-width="1"/>
<line x1="319.5" y1="514.34" x2="322.5" y2="514.34" stroke="#111" stroke-width="1"/>
<text class="s" x="317.2" y="519.14" font-size="14" text-anchor="end" fill="#111">40</text>
<line x1="319.5" y1="502.26" x2="322.5" y2="502.26" stroke="#111" stroke-width="1"/>
<line x1="319.5" y1="490.18" x2="322.5" y2="490.18" stroke="#111" stroke-width="1"/>
<text class="s" x="317.2" y="494.98" font-size="14" text-anchor="end" fill="#111">80</text>
<line x1="319.5" y1="478.1" x2="322.5" y2="478.1" stroke="#111" stroke-width="1"/>
<line x1="319.5" y1="466.02" x2="322.5" y2="466.02" stroke="#111" stroke-width="1"/>
<text class="s" x="317.2" y="470.82" font-size="14" text-anchor="end" fill="#111">120</text>
<line x1="319.5" y1="453.94" x2="322.5" y2="453.94" stroke="#111" stroke-width="1"/>
<line x1="319.5" y1="441.86" x2="322.5" y2="441.86" stroke="#111" stroke-width="1"/>
<text class="s" x="317.2" y="446.66" font-size="14" text-anchor="end" fill="#111">160</text>
<line x1="322.5" y1="538.5" x2="322.5" y2="541.5" stroke="#111" stroke-width="1"/>
<line x1="339.75" y1="538.5" x2="339.75" y2="541.5" stroke="#111" stroke-width="1"/>
<line x1="356.5" y1="538.5" x2="356.5" y2="541.5" stroke="#111" stroke-width="1"/>
<line x1="373.25" y1="538.5" x2="373.25" y2="541.5" stroke="#111" stroke-width="1"/>
<line x1="390.0" y1="538.5" x2="390.0" y2="541.5" stroke="#111" stroke-width="1"/>
<line x1="406.75" y1="538.5" x2="406.75" y2="541.5" stroke="#111" stroke-width="1"/>
<line x1="423.5" y1="538.5" x2="423.5" y2="541.5" stroke="#111" stroke-width="1"/>
<line x1="443" y1="538.5" x2="443" y2="541.5" stroke="#111" stroke-width="1"/>
<line x1="460.6" y1="538.5" x2="460.6" y2="541.5" stroke="#111" stroke-width="1"/>
<line x1="476.6" y1="538.5" x2="476.6" y2="541.5" stroke="#111" stroke-width="1"/>
<line x1="493.8" y1="538.5" x2="493.8" y2="541.5" stroke="#111" stroke-width="1"/>
<line x1="512.6" y1="538.5" x2="512.6" y2="541.5" stroke="#111" stroke-width="1"/>
<line x1="347.9" y1="504" x2="347.9" y2="502.3" stroke="#111" stroke-width="1.1"/>
<line x1="345.15" y1="502.3" x2="350.65" y2="502.3" stroke="#111" stroke-width="1.1"/>
<rect x="342.00" y="504.60" width="11.80" height="33.90" fill="#fff" stroke="#111" stroke-width="1.25"/>
<line x1="364.0" y1="518.3" x2="364.0" y2="516" stroke="#111" stroke-width="1.1"/>
<line x1="361.25" y1="516" x2="366.75" y2="516" stroke="#111" stroke-width="1.1"/>
<rect x="358.10" y="518.90" width="11.80" height="19.60" fill="#fff" stroke="#111" stroke-width="1.25"/>
<line x1="397.5" y1="500" x2="397.5" y2="498.8" stroke="#111" stroke-width="1.1"/>
<line x1="394.75" y1="498.8" x2="400.25" y2="498.8" stroke="#111" stroke-width="1.1"/>
<rect x="391.00" y="500.00" width="13.00" height="38.50" fill="#151515" stroke="none" stroke-width="0"/>
<line x1="413.5" y1="516.3" x2="413.5" y2="513.8" stroke="#111" stroke-width="1.1"/>
<line x1="410.75" y1="513.8" x2="416.25" y2="513.8" stroke="#111" stroke-width="1.1"/>
<rect x="407.00" y="516.30" width="13.00" height="22.20" fill="#151515" stroke="none" stroke-width="0"/>
<line x1="469.0" y1="518.8" x2="469.0" y2="516.8" stroke="#111" stroke-width="1.1"/>
<line x1="466.25" y1="516.8" x2="471.75" y2="516.8" stroke="#111" stroke-width="1.1"/>
<rect x="463.10" y="519.40" width="11.80" height="19.10" fill="#fff" stroke="#111" stroke-width="1.25"/>
<line x1="501.5" y1="462.5" x2="501.5" y2="453.8" stroke="#111" stroke-width="1.1"/>
<line x1="498.75" y1="453.8" x2="504.25" y2="453.8" stroke="#111" stroke-width="1.1"/>
<rect x="495.00" y="462.50" width="13.00" height="76.00" fill="#151515" stroke="none" stroke-width="0"/>
<text class="s" x="501.5" y="455.0" font-size="14.5" text-anchor="middle" font-weight="bold" fill="#222">*</text>
<text class="s" x="335.8" y="544" font-size="14.3" text-anchor="end" transform="rotate(-90 335.8 544)" fill="#111">saline</text>
<text class="s" x="351.6" y="544" font-size="14.3" text-anchor="end" transform="rotate(-90 351.6 544)" fill="#111">M-CSF</text>
<text class="s" x="368.2" y="544" font-size="14.3" text-anchor="end" transform="rotate(-90 368.2 544)" fill="#111">SCF</text>
<text class="s" x="385.5" y="544" font-size="14.3" text-anchor="end" transform="rotate(-90 385.5 544)" fill="#111">saline</text>
<text class="s" x="402.5" y="544" font-size="14.3" text-anchor="end" transform="rotate(-90 402.5 544)" fill="#111">M-CSF</text>
<text class="s" x="420" y="544" font-size="14.3" text-anchor="end" transform="rotate(-90 420 544)" fill="#111">SCF</text>
<text class="s" x="456" y="544.3" font-size="14.3" text-anchor="end" transform="rotate(-90 456 544.3)" fill="#111">saline</text>
<text class="s" x="475.4" y="544.3" font-size="14.3" text-anchor="end" transform="rotate(-90 475.4 544.3)" fill="#111">M-CSF</text>
<text class="s" x="490.5" y="544.3" font-size="14.3" text-anchor="end" transform="rotate(-90 490.5 544.3)" fill="#111">saline</text>
<text class="s" x="508.8" y="544.3" font-size="14.3" text-anchor="end" transform="rotate(-90 508.8 544.3)" fill="#111">M-CSF</text>
<rect x="328.00" y="448.50" width="17.00" height="8.00" fill="#fff" stroke="#111" stroke-width="1.1"/>
<rect x="328.00" y="462.50" width="17.00" height="8.00" fill="#151515" stroke="#111" stroke-width="1.1"/>
<text class="s" x="348.3" y="458.1" font-size="14.7" text-anchor="start" fill="#111">Lyn<tspan font-size="15" dy="-3.6">+/+</tspan></text>
<text class="s" x="348.3" y="472.1" font-size="14.7" text-anchor="start" fill="#111">Lyn<tspan font-size="15" dy="-3.6">-/-</tspan></text>
<text class="s" x="290.4" y="516.3" font-size="14.8" text-anchor="start" transform="rotate(-90 290.4 516.3)" fill="#111">Colonies</text>
<polyline points="329.2,601.5 329.2,605 357.5,605" fill="none" stroke="#222" stroke-width="1"/>
<text class="s" x="374.8" y="611" font-size="18.3" text-anchor="middle" fill="#111">BM</text>
<polyline points="391,604 419.5,604 419.5,601" fill="none" stroke="#222" stroke-width="1"/>
<polyline points="440,601 440,604 448,604" fill="none" stroke="#222" stroke-width="1"/>
<text class="s" x="475" y="610.4" font-size="17.7" text-anchor="middle" fill="#111">Blood</text>
<polyline points="501.5,604 508.5,604 508.5,601" fill="none" stroke="#222" stroke-width="1"/>
</svg>
</body></html>
